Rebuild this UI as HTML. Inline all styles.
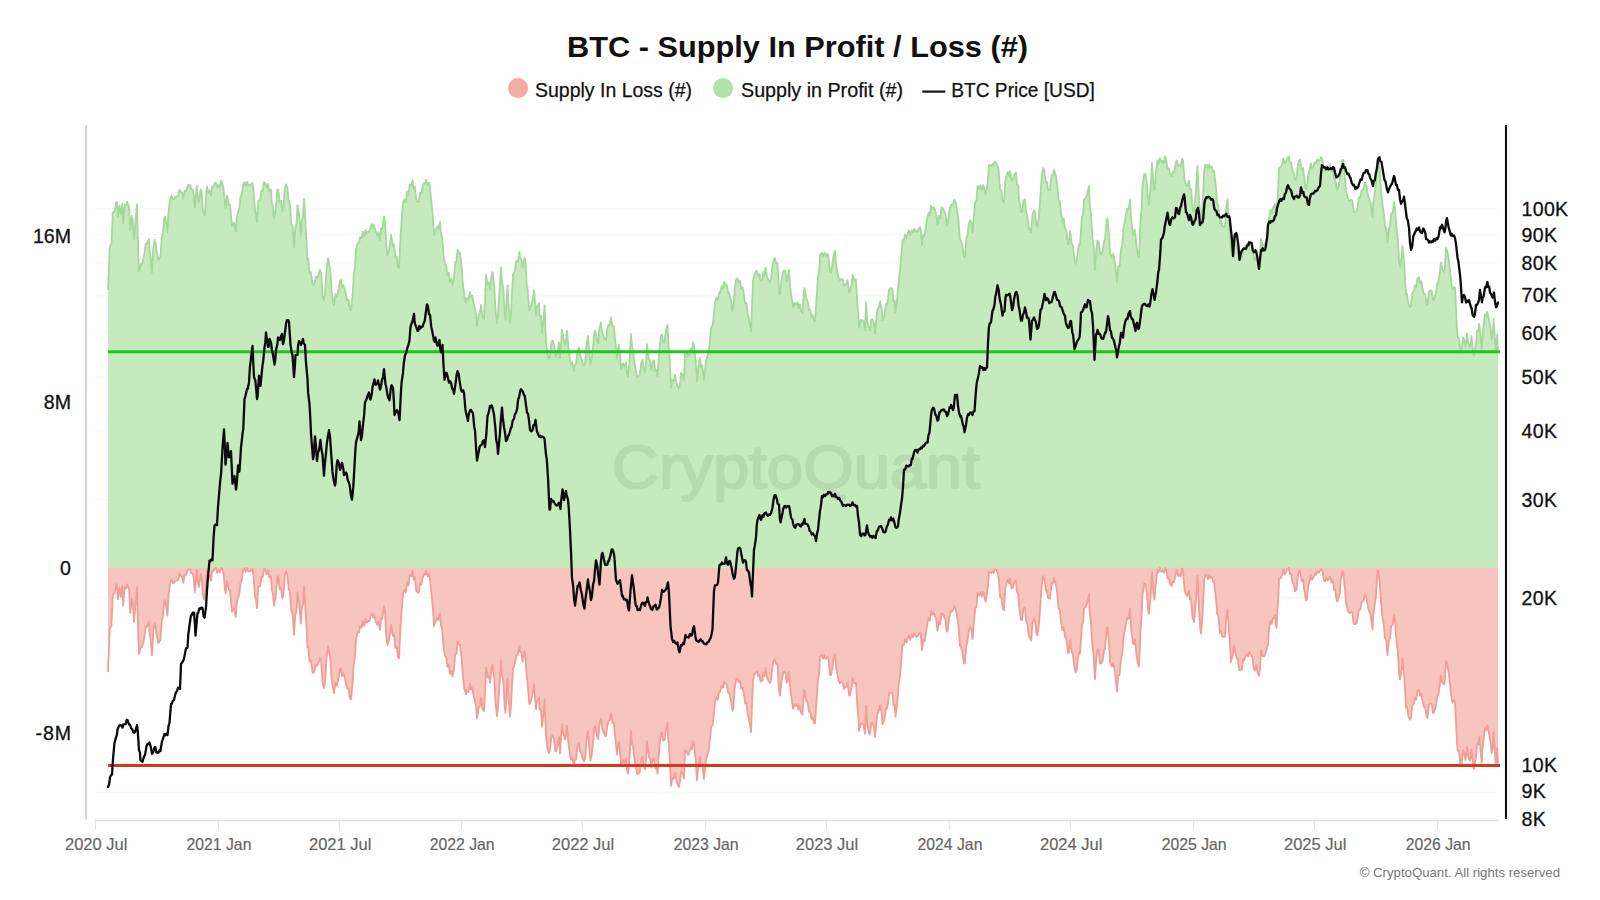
<!DOCTYPE html>
<html lang="en">
<head>
<meta charset="utf-8">
<title>BTC - Supply In Profit / Loss (#)</title>
<style>
html,body{margin:0;padding:0;background:#fff;}
body{width:1600px;height:900px;overflow:hidden;font-family:"Liberation Sans",Arial,Helvetica,sans-serif;}
svg{display:block;}
svg text{font-family:"Liberation Sans",Arial,Helvetica,sans-serif;}
.title{font-size:30.4px;font-weight:700;fill:#111;}
.legend text{font-size:20.2px;fill:#111;stroke:#111;stroke-width:0.25px;}
.yl text,.yr text{font-size:19.6px;fill:#111;stroke:#111;stroke-width:0.3px;}
.yr text{letter-spacing:0.3px;}
.xl text{font-size:15.9px;fill:#666;stroke:#666;stroke-width:0.2px;}
.grid line{stroke:#f5f5f5;stroke-width:1;}
.xt line{stroke:#e2e2e5;stroke-width:1;}
.foot{font-size:13.2px;fill:#777;}
.wm{font-size:61.5px;font-weight:400;fill:#000;stroke:#000;stroke-width:2;stroke-linejoin:round;}
</style>
</head>
<body>
<svg width="1600" height="900" viewBox="0 0 1600 900">
<rect width="1600" height="900" fill="#ffffff"/>
<text class="title" x="797.5" y="56.6" text-anchor="middle" textLength="461" lengthAdjust="spacingAndGlyphs">BTC - Supply In Profit / Loss (#)</text>
<g class="legend">
<circle cx="518.1" cy="88.1" r="10" fill="#f2aca5"/>
<text x="535" y="96.5" textLength="157" lengthAdjust="spacingAndGlyphs">Supply In Loss (#)</text>
<circle cx="723.1" cy="88.1" r="10" fill="#b3e0a6"/>
<text x="741" y="96.5" textLength="162" lengthAdjust="spacingAndGlyphs">Supply in Profit (#)</text>
<line x1="922.3" x2="945.3" y1="91.6" y2="91.6" stroke="#111" stroke-width="2.2"/>
<text x="951.3" y="96.5" textLength="143.5" lengthAdjust="spacingAndGlyphs">BTC Price [USD]</text>
</g>
<g class="grid"><line x1="94" x2="1498" y1="209.0" y2="209.0"/><line x1="94" x2="1498" y1="234.4" y2="234.4"/><line x1="94" x2="1498" y1="262.9" y2="262.9"/><line x1="94" x2="1498" y1="295.9" y2="295.9"/><line x1="94" x2="1498" y1="333.1" y2="333.1"/><line x1="94" x2="1498" y1="377.2" y2="377.2"/><line x1="94" x2="1498" y1="431.1" y2="431.1"/><line x1="94" x2="1498" y1="499.7" y2="499.7"/><line x1="94" x2="1498" y1="597.6" y2="597.6"/><line x1="94" x2="1498" y1="765.0" y2="765.0"/><line x1="94" x2="1498" y1="792.2" y2="792.2"/><line x1="94" x2="1498" y1="818.9" y2="818.9"/></g>
<line x1="86" x2="86" y1="125" y2="819.5" stroke="#d2d2d5" stroke-width="2"/>
<line x1="94.5" x2="1498" y1="820.5" y2="820.5" stroke="#e2e2e5" stroke-width="1.4"/>
<g class="xt"><line x1="95.5" x2="95.5" y1="820" y2="830"/><line x1="218.3" x2="218.3" y1="820" y2="830"/><line x1="339.5" x2="339.5" y1="820" y2="830"/><line x1="461.5" x2="461.5" y1="820" y2="830"/><line x1="582.3" x2="582.3" y1="820" y2="830"/><line x1="705.5" x2="705.5" y1="820" y2="830"/><line x1="826.3" x2="826.3" y1="820" y2="830"/><line x1="949.3" x2="949.3" y1="820" y2="830"/><line x1="1070.5" x2="1070.5" y1="820" y2="830"/><line x1="1193.5" x2="1193.5" y1="820" y2="830"/><line x1="1314.5" x2="1314.5" y1="820" y2="830"/><line x1="1437.5" x2="1437.5" y1="820" y2="830"/></g>
<path d="M108.0,290.0 L109.7,248.3 L110.6,244.6 L111.4,244.2 L112.8,212.8 L114.6,211.3 L116.4,201.9 L117.1,203.7 L117.8,217.2 L119.4,205.6 L120.8,214.6 L122.2,204.0 L123.2,223.2 L124.7,204.7 L126.2,205.7 L127.0,201.8 L129.2,207.6 L130.3,230.4 L132.0,215.9 L132.7,219.2 L134.0,239.2 L135.4,222.7 L137.0,204.3 L138.2,250.3 L138.9,271.3 L141.0,263.9 L141.8,264.3 L143.0,260.6 L144.4,253.7 L145.7,243.9 L146.5,244.2 L148.9,238.9 L149.6,251.1 L150.3,253.2 L152.0,272.3 L153.5,245.5 L154.8,240.1 L155.5,242.8 L157.0,252.9 L158.3,259.7 L160.4,256.5 L161.8,237.1 L162.6,235.1 L164.2,217.9 L165.2,216.4 L166.0,222.0 L167.4,232.0 L168.7,210.0 L170.1,199.5 L171.7,195.8 L173.0,199.3 L174.3,198.8 L175.0,196.7 L176.9,196.6 L178.2,195.5 L179.5,189.7 L180.5,191.4 L182.1,192.4 L183.3,198.7 L184.7,190.8 L186.1,190.7 L187.3,186.9 L188.6,184.8 L190.3,185.3 L191.2,188.7 L193.0,190.1 L193.8,195.0 L194.9,207.7 L196.8,185.9 L197.7,196.2 L198.9,202.5 L200.7,189.4 L201.6,191.2 L202.8,210.1 L204.2,215.2 L204.9,214.0 L206.9,186.4 L208.1,192.7 L209.4,190.3 L211.0,195.8 L212.0,187.4 L213.9,185.3 L214.6,183.1 L215.9,182.6 L217.2,187.7 L218.0,185.2 L219.8,187.2 L221.1,180.5 L222.0,183.1 L223.6,188.7 L225.0,204.6 L225.7,208.1 L227.0,195.7 L228.9,204.6 L229.9,204.6 L232.0,226.3 L232.8,223.2 L234.0,222.9 L235.8,231.5 L236.7,217.4 L237.5,214.2 L239.3,208.1 L240.3,198.0 L241.9,193.6 L243.0,185.0 L244.5,182.1 L245.8,186.2 L247.1,181.6 L248.4,185.6 L249.7,185.4 L251.4,183.7 L252.3,182.8 L253.5,189.7 L254.9,209.2 L256.2,215.6 L257.0,221.9 L258.3,200.8 L260.1,200.0 L261.4,190.6 L262.7,191.1 L264.0,182.2 L265.0,182.7 L266.6,187.7 L267.9,184.0 L269.2,191.0 L271.0,189.6 L271.8,202.8 L273.1,208.2 L274.0,218.9 L275.7,209.9 L277.5,189.8 L278.3,189.4 L279.6,202.2 L280.9,200.6 L282.5,211.6 L283.5,207.1 L284.8,188.9 L286.0,184.3 L287.4,188.2 L288.7,201.9 L290.0,204.5 L291.3,224.0 L292.6,226.5 L294.0,247.7 L295.2,228.9 L296.5,223.2 L297.5,205.1 L299.1,215.7 L301.0,236.2 L301.7,221.9 L303.0,216.5 L304.0,198.7 L305.6,223.8 L307.5,259.7 L308.2,258.8 L309.5,273.6 L310.8,272.2 L312.5,284.5 L313.4,285.2 L314.7,282.6 L316.0,276.6 L317.3,277.7 L318.6,274.8 L320.0,269.7 L321.2,273.2 L322.5,295.2 L324.0,300.0 L325.1,293.6 L326.4,271.0 L328.0,258.3 L329.0,262.5 L330.3,270.0 L331.6,291.5 L332.9,299.2 L334.0,304.7 L335.5,294.0 L336.8,297.2 L338.1,292.0 L340.0,280.6 L340.8,279.4 L342.1,287.6 L343.4,285.1 L345.0,290.1 L346.0,295.3 L347.3,300.0 L348.6,300.0 L349.9,309.3 L351.0,310.5 L352.5,295.7 L353.8,275.0 L355.1,266.4 L356.0,250.2 L357.7,243.1 L359.0,243.4 L360.0,237.2 L361.6,238.3 L362.9,231.8 L364.2,236.6 L365.5,230.2 L366.8,233.3 L368.1,231.7 L369.4,231.8 L370.7,226.5 L372.0,223.9 L373.3,228.2 L374.0,224.9 L375.9,232.2 L377.2,235.4 L378.5,232.3 L380.0,240.1 L381.1,228.2 L382.4,229.1 L384.0,216.4 L385.0,222.1 L386.3,245.8 L387.5,255.2 L388.9,250.5 L390.2,241.8 L391.0,235.0 L392.8,245.8 L394.1,244.3 L395.4,257.9 L396.7,256.4 L398.0,266.7 L399.0,268.0 L400.6,235.5 L402.5,209.1 L403.2,202.1 L404.5,199.3 L405.8,202.1 L407.1,191.4 L408.4,195.1 L409.7,184.6 L411.0,185.7 L412.5,180.2 L413.6,189.0 L414.9,186.8 L416.2,199.9 L417.5,201.9 L418.8,202.0 L420.1,192.6 L421.4,193.6 L422.7,186.6 L424.0,183.2 L425.3,183.8 L426.0,179.8 L427.9,185.4 L429.2,182.7 L430.0,188.1 L431.8,205.5 L433.1,220.3 L434.0,235.1 L435.7,230.0 L437.0,226.6 L438.3,228.8 L440.0,221.9 L440.9,233.9 L442.2,237.8 L443.5,255.1 L445.0,264.2 L446.1,265.3 L447.4,275.3 L448.7,272.7 L450.0,282.1 L451.3,278.8 L452.5,284.7 L453.9,278.0 L455.2,262.2 L456.5,262.0 L457.5,249.7 L459.1,252.4 L460.0,252.9 L461.7,267.1 L462.5,280.0 L464.3,296.2 L466.0,302.2 L466.9,298.1 L468.2,299.8 L470.0,291.9 L470.8,297.1 L472.1,295.6 L474.0,305.1 L474.7,307.5 L476.0,313.5 L477.0,326.2 L478.6,315.0 L479.9,313.3 L481.0,304.8 L482.5,316.2 L484.0,318.5 L485.1,300.0 L486.0,275.0 L487.7,284.2 L489.0,282.7 L490.0,290.0 L491.6,275.3 L492.5,271.8 L494.2,285.2 L495.5,309.7 L497.0,323.5 L498.1,312.8 L499.4,293.4 L501.0,267.3 L502.0,282.3 L503.3,287.4 L504.6,312.3 L505.5,319.6 L507.5,285.3 L508.5,303.9 L510.0,323.2 L511.1,310.1 L513.0,274.6 L513.7,274.1 L515.0,269.6 L516.3,261.0 L517.6,261.8 L519.5,252.0 L520.2,258.2 L521.5,259.0 L522.5,267.7 L524.5,257.6 L525.4,260.9 L526.7,283.9 L527.5,287.7 L529.3,310.1 L530.0,309.2 L531.9,303.1 L533.2,296.3 L534.0,290.1 L536.0,315.2 L537.1,306.5 L539.0,303.1 L539.7,315.3 L541.0,316.0 L542.0,332.5 L543.6,318.5 L544.5,305.4 L546.0,341.8 L547.5,354.4 L549.0,358.7 L550.1,354.9 L551.4,342.6 L552.5,340.4 L554.0,344.1 L555.3,356.6 L556.0,356.8 L557.9,349.9 L559.0,342.3 L560.0,358.6 L562.0,329.7 L563.1,337.4 L565.0,344.4 L565.7,343.0 L567.0,330.7 L568.3,346.8 L570.0,359.2 L570.9,364.5 L572.2,362.6 L574.0,371.2 L574.8,364.9 L576.1,364.2 L577.4,350.2 L579.0,347.4 L580.0,355.6 L581.3,357.7 L582.6,363.5 L584.0,365.7 L585.2,363.2 L586.5,343.7 L588.0,335.8 L589.1,351.3 L590.5,364.6 L591.7,359.2 L593.0,347.7 L594.3,331.7 L595.0,330.5 L597.5,342.0 L598.2,343.2 L599.5,327.6 L601.0,322.4 L602.1,331.9 L603.4,335.8 L605.0,339.7 L606.0,340.2 L607.3,329.6 L608.6,324.7 L609.9,323.9 L611.0,317.3 L612.5,326.5 L613.8,326.0 L614.5,333.7 L617.0,358.0 L617.7,349.0 L619.0,345.3 L620.3,358.2 L621.0,369.1 L622.9,363.2 L624.2,366.6 L626.0,362.4 L626.8,371.5 L628.0,376.9 L629.4,362.8 L631.0,334.0 L632.0,346.7 L633.3,351.3 L634.0,359.9 L635.9,370.3 L637.2,377.5 L638.0,376.9 L639.8,375.0 L641.1,363.5 L642.5,359.8 L643.7,369.3 L645.0,372.2 L646.3,359.1 L647.0,343.9 L648.9,358.9 L650.2,361.8 L651.0,370.1 L652.8,361.9 L654.0,360.2 L655.4,371.0 L656.7,369.7 L657.5,376.1 L659.3,350.8 L661.0,335.0 L661.9,334.6 L663.2,342.8 L664.5,342.1 L665.8,331.8 L667.5,325.0 L668.4,343.8 L669.5,355.1 L671.0,387.9 L672.3,379.8 L673.6,381.1 L675.0,374.8 L676.2,381.9 L677.5,385.9 L679.0,388.7 L680.1,382.9 L681.0,372.8 L682.7,375.0 L684.0,380.3 L685.0,352.1 L686.6,352.2 L687.9,356.5 L689.0,354.8 L690.5,348.6 L691.8,350.8 L693.1,342.2 L694.0,345.0 L695.7,361.1 L697.0,381.3 L698.3,367.6 L700.0,358.0 L700.9,367.7 L702.2,365.3 L704.0,380.2 L704.8,371.3 L706.1,360.5 L707.5,355.6 L708.7,351.8 L710.0,339.6 L711.3,326.7 L712.6,326.2 L713.9,314.7 L715.0,302.0 L716.5,297.8 L717.8,300.5 L719.1,292.8 L720.0,292.6 L721.7,286.2 L723.0,288.1 L724.3,282.0 L725.0,283.0 L726.9,285.5 L728.2,293.0 L729.0,292.5 L730.8,299.5 L732.5,311.2 L733.4,307.6 L734.7,288.7 L736.0,280.2 L737.3,278.3 L738.6,282.3 L740.0,280.7 L741.2,288.7 L742.5,287.1 L744.0,294.6 L745.1,303.2 L746.4,302.8 L747.5,312.9 L749.0,319.6 L750.3,326.4 L751.0,331.8 L753.0,280.4 L754.2,274.6 L756.0,271.5 L756.8,270.8 L758.1,276.0 L759.4,274.3 L760.7,281.0 L762.5,279.7 L763.3,271.9 L764.6,275.6 L765.5,267.5 L767.2,277.4 L768.5,280.1 L770.0,282.3 L771.1,278.7 L772.4,265.7 L774.0,259.6 L775.0,258.3 L776.3,263.2 L777.5,263.0 L778.9,287.8 L780.0,294.6 L781.5,280.5 L782.8,273.3 L784.0,270.2 L785.4,271.2 L786.7,281.6 L787.5,280.2 L789.0,270.0 L790.6,290.0 L792.5,304.0 L793.2,307.2 L794.5,302.6 L795.8,304.5 L797.5,302.4 L798.4,308.1 L799.7,304.1 L801.0,310.9 L802.5,312.7 L803.7,293.8 L804.5,288.1 L806.3,298.8 L807.6,300.9 L809.0,309.7 L810.2,310.0 L811.5,317.1 L812.8,315.1 L814.1,321.7 L815.0,321.2 L816.7,296.1 L818.0,276.8 L819.3,270.7 L820.0,254.8 L821.9,252.6 L823.2,256.2 L824.5,252.6 L825.8,256.6 L827.5,253.7 L828.4,256.0 L830.0,272.5 L831.0,272.5 L832.3,266.2 L833.6,255.1 L835.0,250.8 L836.2,266.1 L837.5,272.2 L838.8,278.5 L840.0,280.3 L841.4,278.7 L842.7,279.7 L844.0,286.1 L845.0,284.7 L846.6,283.4 L847.5,280.0 L849.2,292.5 L850.0,291.7 L851.8,283.3 L852.5,274.9 L854.4,280.0 L856.0,279.6 L857.0,298.6 L858.3,313.4 L859.0,327.6 L860.9,319.9 L862.5,320.3 L863.5,321.2 L865.0,330.4 L866.0,302.1 L867.4,321.7 L869.0,329.2 L870.0,330.8 L871.3,319.4 L872.5,319.2 L873.9,323.0 L875.0,333.4 L876.5,317.4 L877.5,309.4 L879.1,306.3 L880.0,301.5 L881.7,308.9 L882.5,320.1 L884.3,315.5 L886.0,303.8 L886.9,304.5 L888.2,298.4 L889.0,289.7 L890.8,288.1 L892.5,288.9 L893.4,301.4 L894.7,300.4 L895.5,312.4 L897.3,297.6 L899.0,277.6 L899.9,272.4 L901.2,257.8 L902.5,239.6 L903.8,240.3 L905.1,234.6 L906.4,237.9 L907.5,234.2 L909.0,230.6 L910.3,235.0 L911.6,230.3 L912.9,232.4 L914.2,229.0 L915.0,229.8 L916.8,232.1 L918.1,230.5 L920.0,227.3 L920.7,228.9 L922.0,245.3 L923.3,234.8 L924.6,236.1 L926.0,227.2 L927.2,218.8 L928.5,212.7 L929.8,215.4 L931.0,205.8 L932.4,209.4 L933.7,207.4 L935.0,210.2 L936.3,214.8 L937.5,225.2 L938.9,216.1 L940.2,218.5 L941.5,207.4 L942.5,207.9 L944.1,210.6 L945.4,213.6 L946.7,225.8 L947.5,225.0 L949.3,210.9 L951.0,204.9 L951.9,205.5 L953.2,203.8 L954.5,199.7 L955.8,203.2 L957.5,212.6 L958.4,219.1 L960.0,240.0 L961.0,240.4 L962.3,245.3 L964.0,257.1 L964.9,256.8 L966.2,239.8 L967.5,234.6 L968.8,224.6 L970.0,220.2 L971.4,222.5 L972.5,232.6 L974.0,214.2 L975.3,201.5 L976.6,200.1 L977.5,185.8 L979.2,188.8 L980.5,185.2 L981.8,189.7 L983.1,185.0 L984.0,188.1 L985.5,194.5 L987.0,187.3 L988.3,175.3 L989.0,164.7 L990.9,166.0 L992.5,163.8 L993.5,166.0 L994.8,161.7 L996.1,162.5 L997.5,165.3 L998.7,170.2 L1000.0,189.6 L1001.3,190.4 L1002.6,201.0 L1004.0,202.8 L1005.2,182.0 L1006.0,177.7 L1007.8,172.1 L1009.1,175.9 L1010.0,170.8 L1011.7,180.9 L1012.5,180.2 L1014.3,174.7 L1016.0,172.8 L1016.9,184.1 L1018.2,185.5 L1019.0,198.2 L1021.0,212.0 L1022.1,211.8 L1023.4,200.6 L1025.0,199.3 L1026.0,211.7 L1027.5,216.9 L1028.6,226.6 L1030.5,231.7 L1031.2,232.4 L1032.5,214.6 L1034.0,210.3 L1035.1,213.3 L1036.4,224.9 L1037.5,227.0 L1039.0,216.0 L1040.0,201.8 L1041.6,178.2 L1043.0,167.9 L1044.2,170.2 L1046.0,182.6 L1046.8,181.9 L1048.1,189.8 L1050.0,190.2 L1050.7,181.8 L1052.0,174.9 L1053.3,174.5 L1054.0,169.8 L1055.9,176.4 L1057.5,187.1 L1058.5,199.8 L1059.8,201.2 L1061.0,213.0 L1062.4,222.0 L1063.7,218.8 L1065.0,228.0 L1066.3,230.2 L1068.0,244.4 L1068.9,243.6 L1070.0,230.8 L1071.5,242.9 L1072.8,245.4 L1074.0,255.3 L1075.5,263.8 L1076.7,262.1 L1078.0,249.1 L1079.3,243.7 L1080.0,244.8 L1081.9,217.4 L1083.2,213.1 L1084.0,199.7 L1085.8,198.0 L1087.1,194.3 L1089.0,185.8 L1089.7,203.0 L1091.0,214.6 L1092.3,235.6 L1093.6,245.8 L1095.0,270.2 L1096.2,251.0 L1097.5,240.4 L1098.8,242.6 L1100.1,254.6 L1101.0,254.6 L1102.7,251.3 L1104.0,241.3 L1105.0,240.3 L1106.6,219.6 L1107.5,218.5 L1109.2,236.6 L1110.0,252.9 L1111.8,257.5 L1113.1,254.0 L1114.0,257.5 L1115.7,268.7 L1117.0,282.7 L1118.3,266.2 L1119.6,266.1 L1121.0,249.6 L1122.2,245.4 L1123.5,228.1 L1125.0,220.5 L1126.1,213.6 L1127.4,208.6 L1128.7,209.5 L1130.0,199.7 L1131.3,221.3 L1133.0,234.2 L1133.9,235.2 L1135.0,229.9 L1136.5,246.1 L1137.8,253.7 L1139.0,257.5 L1140.4,223.1 L1141.7,205.4 L1142.5,185.1 L1144.3,174.0 L1145.5,174.4 L1146.9,183.8 L1148.2,201.4 L1149.0,204.5 L1150.8,184.5 L1152.0,163.0 L1153.4,184.4 L1154.5,189.9 L1156.0,171.3 L1157.5,160.4 L1158.6,162.7 L1159.9,157.9 L1161.2,161.9 L1162.5,160.8 L1163.8,163.2 L1165.1,156.5 L1166.0,159.3 L1167.7,169.0 L1169.0,168.5 L1170.0,174.2 L1171.6,176.1 L1172.9,171.7 L1174.0,172.7 L1176.0,162.4 L1176.8,160.3 L1178.1,166.2 L1180.0,164.8 L1180.7,166.8 L1182.0,158.6 L1183.0,160.6 L1184.6,180.1 L1186.0,184.5 L1187.2,185.9 L1189.0,180.8 L1189.8,189.4 L1191.1,189.2 L1192.4,207.1 L1194.0,212.0 L1195.0,202.4 L1196.3,185.0 L1197.5,165.9 L1198.9,196.5 L1200.2,218.2 L1201.0,223.6 L1202.8,201.0 L1204.1,172.0 L1205.0,165.4 L1206.7,164.6 L1208.0,169.1 L1209.3,164.6 L1210.0,167.7 L1211.9,166.7 L1213.2,171.9 L1214.0,170.9 L1216.0,187.8 L1217.1,203.4 L1218.4,205.4 L1220.0,222.8 L1221.0,221.1 L1222.3,226.4 L1223.6,226.5 L1225.0,226.4 L1226.2,207.7 L1227.5,199.3 L1228.8,219.7 L1229.5,226.7 L1231.0,251.4 L1232.7,244.6 L1234.0,234.8 L1235.3,242.6 L1237.0,248.3 L1237.9,248.7 L1239.2,259.4 L1240.0,259.6 L1241.8,258.7 L1243.1,248.3 L1244.0,250.1 L1245.7,245.4 L1247.0,243.5 L1248.3,245.9 L1249.0,241.3 L1251.5,245.1 L1252.2,245.9 L1254.0,258.3 L1254.8,260.0 L1256.5,253.8 L1257.4,261.1 L1259.0,264.7 L1260.0,258.1 L1261.0,239.0 L1262.6,245.1 L1264.0,245.7 L1265.2,243.7 L1267.0,236.3 L1267.9,235.2 L1269.0,217.7 L1270.5,210.2 L1271.8,212.9 L1272.5,208.6 L1275.0,203.9 L1275.7,213.0 L1276.5,216.8 L1278.3,186.0 L1279.0,167.8 L1280.9,166.8 L1282.5,162.9 L1283.5,158.4 L1284.8,163.3 L1286.1,161.0 L1287.5,157.8 L1288.7,156.5 L1290.0,163.0 L1291.0,162.3 L1292.6,171.4 L1293.9,173.1 L1295.0,180.2 L1296.5,178.2 L1297.8,165.5 L1299.1,160.5 L1300.0,159.4 L1301.7,169.9 L1303.0,168.1 L1304.0,177.1 L1306.0,189.3 L1306.9,187.8 L1308.2,175.0 L1310.0,168.1 L1310.8,163.5 L1312.1,168.5 L1313.4,165.9 L1315.0,162.4 L1316.0,163.4 L1317.3,159.5 L1318.6,161.3 L1319.9,159.6 L1321.0,157.3 L1322.5,159.4 L1323.8,168.2 L1325.0,169.9 L1326.4,165.9 L1327.7,168.9 L1329.0,167.4 L1330.0,164.8 L1331.6,170.8 L1332.9,169.0 L1334.2,178.3 L1335.0,177.5 L1336.8,189.4 L1337.5,189.6 L1340.0,180.5 L1340.7,168.4 L1342.5,159.7 L1343.3,160.6 L1345.0,177.5 L1345.9,190.2 L1347.5,197.0 L1348.5,200.5 L1349.8,201.3 L1351.0,199.8 L1352.4,200.8 L1353.7,212.2 L1355.0,212.3 L1356.3,211.5 L1357.6,207.0 L1359.0,197.3 L1360.2,197.6 L1361.5,190.8 L1362.5,190.1 L1364.1,187.0 L1365.0,182.3 L1366.7,186.9 L1368.0,195.8 L1369.0,198.0 L1370.6,202.8 L1372.5,217.4 L1373.2,204.5 L1375.0,190.3 L1375.8,186.1 L1377.1,164.3 L1378.0,157.7 L1379.7,169.2 L1381.0,189.5 L1382.3,203.6 L1384.0,214.0 L1384.9,225.9 L1386.2,227.7 L1387.5,242.8 L1388.8,228.8 L1390.1,225.9 L1391.0,214.3 L1392.7,212.4 L1394.0,202.1 L1395.3,210.6 L1396.0,223.8 L1397.9,239.4 L1399.2,262.3 L1400.0,266.8 L1401.8,256.1 L1402.5,246.1 L1404.4,266.0 L1406.0,295.1 L1407.0,294.2 L1408.3,303.7 L1410.0,307.2 L1410.9,306.2 L1412.2,293.4 L1414.0,290.5 L1414.8,285.6 L1416.1,286.9 L1417.4,278.5 L1419.0,277.3 L1420.0,283.1 L1421.3,281.3 L1422.5,287.7 L1423.9,294.3 L1425.2,294.2 L1426.5,303.7 L1427.5,305.1 L1429.1,291.4 L1430.0,290.3 L1431.7,291.0 L1433.0,300.2 L1434.0,299.6 L1435.6,294.6 L1437.5,282.5 L1438.2,282.5 L1439.5,274.3 L1441.0,262.4 L1442.1,269.0 L1444.0,271.9 L1444.7,269.7 L1446.0,247.7 L1447.3,251.3 L1448.6,258.8 L1450.0,270.4 L1451.2,282.7 L1452.5,289.6 L1453.8,286.9 L1455.0,288.2 L1457.0,330.1 L1457.7,337.3 L1459.0,338.2 L1460.3,350.5 L1461.3,352.5 L1463.0,337.3 L1464.2,340.0 L1465.5,346.9 L1467.0,333.9 L1468.1,342.8 L1469.7,347.1 L1470.7,344.6 L1471.5,336.0 L1473.3,354.2 L1474.0,355.6 L1476.0,344.4 L1477.2,330.7 L1478.5,331.0 L1479.2,323.6 L1481.7,348.9 L1482.4,337.8 L1484.0,321.8 L1485.0,314.6 L1486.3,316.6 L1487.2,311.9 L1488.9,318.6 L1490.8,330.0 L1491.6,339.5 L1492.8,333.8 L1493.6,318.7 L1495.7,351.0 L1497.2,334.3 L1498.0,352.2 L1498.0,568.0 L108.0,568.0 Z" fill="#c6e9be"/>
<path d="M108.0,671.9 L109.7,630.3 L110.6,626.6 L111.4,626.3 L112.8,594.9 L114.6,593.4 L116.4,584.1 L117.1,585.9 L117.8,599.4 L119.4,587.9 L120.8,596.9 L122.2,586.3 L123.2,605.5 L124.7,587.2 L126.2,588.2 L127.0,584.3 L129.2,590.1 L130.3,612.9 L132.0,598.5 L132.7,601.8 L134.0,621.9 L135.4,605.4 L137.0,587.1 L138.2,633.1 L138.9,654.1 L141.0,646.8 L141.8,647.2 L143.0,643.5 L144.4,636.6 L145.7,626.9 L146.5,627.2 L148.9,622.0 L149.6,634.2 L150.3,636.4 L152.0,655.4 L153.5,628.7 L154.8,623.4 L155.5,626.1 L157.0,636.3 L158.3,643.1 L160.4,639.9 L161.8,620.5 L162.6,618.6 L164.2,601.4 L165.2,599.9 L166.0,605.6 L167.4,615.6 L168.7,593.7 L170.1,583.2 L171.7,579.5 L173.0,583.1 L174.3,582.7 L175.0,580.6 L176.9,580.5 L178.2,579.5 L179.5,573.7 L180.5,575.4 L182.1,576.4 L183.3,582.8 L184.7,575.0 L186.1,574.8 L187.3,571.0 L188.6,569.1 L190.3,569.6 L191.2,573.0 L193.0,574.4 L193.8,579.4 L194.9,592.2 L196.8,570.3 L197.7,580.7 L198.9,587.0 L200.7,574.0 L201.6,575.8 L202.8,594.7 L204.2,599.8 L204.9,598.7 L206.9,571.1 L208.1,577.5 L209.4,575.1 L211.0,580.7 L212.0,572.3 L213.9,570.2 L214.6,568.1 L215.9,568.0 L217.2,572.8 L218.0,570.3 L219.8,572.3 L221.1,568.0 L222.0,568.3 L223.6,573.9 L225.0,589.9 L225.7,593.3 L227.0,581.0 L228.9,589.9 L229.9,590.0 L232.0,611.8 L232.8,608.7 L234.0,608.4 L235.8,617.0 L236.7,603.0 L237.5,599.8 L239.3,593.8 L240.3,583.7 L241.9,579.4 L243.0,570.8 L244.5,568.0 L245.8,572.0 L247.1,568.0 L248.4,571.5 L249.7,571.4 L251.4,569.8 L252.3,568.8 L253.5,575.8 L254.9,595.4 L256.2,601.8 L257.0,608.1 L258.3,587.0 L260.1,586.2 L261.4,576.9 L262.7,577.4 L264.0,568.6 L265.0,569.1 L266.6,574.2 L267.9,570.5 L269.2,577.5 L271.0,576.2 L271.8,589.4 L273.1,594.8 L274.0,605.6 L275.7,596.7 L277.5,576.6 L278.3,576.2 L279.6,589.0 L280.9,587.5 L282.5,598.6 L283.5,594.0 L284.8,575.9 L286.0,571.3 L287.4,575.3 L288.7,589.0 L290.0,591.6 L291.3,611.1 L292.6,613.7 L294.0,634.9 L295.2,616.2 L296.5,610.5 L297.5,592.4 L299.1,603.1 L301.0,623.6 L301.7,609.3 L303.0,603.9 L304.0,586.2 L305.6,611.4 L307.5,647.3 L308.2,646.4 L309.5,661.3 L310.8,659.9 L312.5,672.3 L313.4,673.0 L314.7,670.4 L316.0,664.4 L317.3,665.6 L318.6,662.7 L320.0,657.7 L321.2,661.2 L322.5,683.2 L324.0,688.1 L325.1,681.8 L326.4,659.2 L328.0,646.5 L329.0,650.7 L330.3,658.3 L331.6,679.8 L332.9,687.5 L334.0,693.1 L335.5,682.5 L336.8,685.7 L338.1,680.5 L340.0,669.2 L340.8,668.0 L342.1,676.2 L343.4,673.7 L345.0,678.8 L346.0,684.0 L347.3,688.7 L348.6,688.8 L349.9,698.2 L351.0,699.4 L352.5,684.6 L353.8,663.9 L355.1,655.3 L356.0,639.2 L357.7,632.1 L359.0,632.5 L360.0,626.3 L361.6,627.5 L362.9,621.0 L364.2,625.9 L365.5,619.5 L366.8,622.6 L368.1,621.0 L369.4,621.2 L370.7,615.9 L372.0,613.4 L373.3,617.7 L374.0,614.5 L375.9,621.8 L377.2,625.0 L378.5,621.9 L380.0,629.8 L381.1,618.0 L382.4,618.8 L384.0,606.2 L385.0,611.9 L386.3,635.7 L387.5,645.1 L388.9,640.5 L390.2,631.7 L391.0,625.0 L392.8,635.8 L394.1,634.4 L395.4,648.0 L396.7,646.6 L398.0,656.9 L399.0,658.2 L400.6,625.7 L402.5,599.5 L403.2,592.5 L404.5,589.7 L405.8,592.6 L407.1,581.8 L408.4,585.6 L409.7,575.1 L411.0,576.3 L412.5,570.9 L413.6,579.6 L414.9,577.5 L416.2,590.7 L417.5,592.6 L418.8,592.8 L420.1,583.4 L421.4,584.4 L422.7,577.5 L424.0,574.1 L425.3,574.8 L426.0,570.7 L427.9,576.5 L429.2,573.8 L430.0,579.2 L431.8,596.7 L433.1,611.5 L434.0,626.3 L435.7,621.3 L437.0,617.9 L438.3,620.1 L440.0,613.3 L440.9,625.3 L442.2,629.3 L443.5,646.6 L445.0,655.8 L446.1,656.8 L447.4,666.9 L448.7,664.3 L450.0,673.8 L451.3,670.5 L452.5,676.4 L453.9,669.8 L455.2,654.0 L456.5,653.9 L457.5,641.6 L459.1,644.4 L460.0,644.8 L461.7,659.1 L462.5,672.0 L464.3,688.3 L466.0,694.3 L466.9,690.3 L468.2,692.0 L470.0,684.2 L470.8,689.4 L472.1,687.9 L474.0,697.4 L474.7,699.9 L476.0,705.9 L477.0,718.7 L478.6,707.5 L479.9,705.9 L481.0,697.3 L482.5,708.8 L484.0,711.1 L485.1,692.7 L486.0,667.7 L487.7,677.0 L489.0,675.5 L490.0,682.8 L491.6,668.1 L492.5,664.7 L494.2,678.1 L495.5,702.7 L497.0,716.5 L498.1,705.9 L499.4,686.5 L501.0,660.5 L502.0,675.5 L503.3,680.6 L504.6,705.6 L505.5,712.9 L507.5,678.6 L508.5,697.3 L510.0,716.6 L511.1,703.5 L513.0,668.0 L513.7,667.6 L515.0,663.1 L516.3,654.6 L517.6,655.4 L519.5,645.7 L520.2,651.9 L521.5,652.7 L522.5,661.5 L524.5,651.4 L525.4,654.7 L526.7,677.7 L527.5,681.6 L529.3,704.0 L530.0,703.2 L531.9,697.2 L533.2,690.4 L534.0,684.2 L536.0,709.4 L537.1,700.6 L539.0,697.3 L539.7,709.5 L541.0,710.3 L542.0,726.8 L543.6,712.8 L544.5,699.8 L546.0,736.3 L547.5,748.9 L549.0,753.2 L550.1,749.5 L551.4,737.1 L552.5,735.0 L554.0,738.8 L555.3,751.3 L556.0,751.5 L557.9,744.6 L559.0,737.1 L560.0,753.5 L562.0,724.6 L563.1,732.3 L565.0,739.3 L565.7,738.0 L567.0,725.7 L568.3,741.9 L570.0,754.4 L570.9,759.6 L572.2,757.8 L574.0,766.4 L574.8,760.2 L576.1,759.5 L577.4,745.6 L579.0,742.8 L580.0,751.0 L581.3,753.2 L582.6,759.0 L584.0,761.2 L585.2,758.7 L586.5,739.3 L588.0,731.5 L589.1,747.0 L590.5,760.3 L591.7,754.9 L593.0,743.5 L594.3,727.5 L595.0,726.3 L597.5,737.8 L598.2,739.2 L599.5,723.6 L601.0,718.3 L602.1,727.9 L603.4,731.9 L605.0,735.8 L606.0,736.3 L607.3,725.8 L608.6,720.9 L609.9,720.2 L611.0,713.5 L612.5,722.8 L613.8,722.3 L614.5,730.1 L617.0,754.5 L617.7,745.5 L619.0,741.8 L620.3,754.8 L621.0,765.7 L622.9,759.8 L624.2,763.2 L626.0,759.1 L626.8,768.2 L628.0,773.7 L629.4,759.6 L631.0,730.9 L632.0,743.6 L633.3,748.3 L634.0,756.8 L635.9,767.2 L637.2,774.5 L638.0,773.9 L639.8,772.1 L641.1,760.7 L642.5,757.0 L643.7,766.5 L645.0,769.4 L646.3,756.4 L647.0,741.2 L648.9,756.3 L650.2,759.2 L651.0,767.5 L652.8,759.3 L654.0,757.7 L655.4,768.5 L656.7,767.3 L657.5,773.7 L659.3,748.4 L661.0,732.7 L661.9,732.3 L663.2,740.6 L664.5,739.9 L665.8,729.7 L667.5,722.9 L668.4,741.7 L669.5,753.0 L671.0,785.9 L672.3,777.8 L673.6,779.1 L675.0,772.9 L676.2,780.0 L677.5,784.1 L679.0,786.9 L680.1,781.1 L681.0,771.1 L682.7,773.3 L684.0,778.6 L685.0,750.5 L686.6,750.7 L687.9,755.0 L689.0,753.3 L690.5,747.1 L691.8,749.4 L693.1,740.9 L694.0,743.7 L695.7,759.8 L697.0,780.1 L698.3,766.3 L700.0,756.9 L700.9,766.6 L702.2,764.2 L704.0,779.1 L704.8,770.3 L706.1,759.5 L707.5,754.6 L708.7,750.9 L710.0,738.7 L711.3,725.8 L712.6,725.4 L713.9,713.9 L715.0,701.3 L716.5,697.1 L717.8,699.8 L719.1,692.2 L720.0,692.0 L721.7,685.7 L723.0,687.6 L724.3,681.5 L725.0,682.5 L726.9,685.1 L728.2,692.6 L729.0,692.1 L730.8,699.2 L732.5,710.9 L733.4,707.4 L734.7,688.5 L736.0,680.0 L737.3,678.2 L738.6,682.2 L740.0,680.7 L741.2,688.7 L742.5,687.1 L744.0,694.7 L745.1,703.3 L746.4,703.0 L747.5,713.1 L749.0,719.8 L750.3,726.7 L751.0,732.1 L753.0,680.7 L754.2,675.0 L756.0,671.9 L756.8,671.3 L758.1,676.5 L759.4,674.8 L760.7,681.5 L762.5,680.3 L763.3,672.5 L764.6,676.3 L765.5,668.2 L767.2,678.2 L768.5,680.9 L770.0,683.1 L771.1,679.5 L772.4,666.6 L774.0,660.5 L775.0,659.3 L776.3,664.2 L777.5,664.0 L778.9,688.9 L780.0,695.7 L781.5,681.6 L782.8,674.5 L784.0,671.4 L785.4,672.5 L786.7,682.9 L787.5,681.5 L789.0,671.4 L790.6,691.4 L792.5,705.4 L793.2,708.7 L794.5,704.1 L795.8,706.0 L797.5,704.0 L798.4,709.7 L799.7,705.8 L801.0,712.6 L802.5,714.4 L803.7,695.6 L804.5,689.9 L806.3,700.6 L807.6,702.8 L809.0,711.6 L810.2,712.0 L811.5,719.1 L812.8,717.2 L814.1,723.7 L815.0,723.3 L816.7,698.3 L818.0,679.0 L819.3,672.9 L820.0,657.1 L821.9,654.8 L823.2,658.6 L824.5,654.9 L825.8,659.0 L827.5,656.2 L828.4,658.5 L830.0,675.0 L831.0,675.0 L832.3,668.8 L833.6,657.7 L835.0,653.5 L836.2,668.8 L837.5,674.9 L838.8,681.3 L840.0,683.2 L841.4,681.6 L842.7,682.6 L844.0,689.0 L845.0,687.7 L846.6,686.4 L847.5,683.0 L849.2,695.6 L850.0,694.8 L851.8,686.4 L852.5,678.0 L854.4,683.3 L856.0,682.8 L857.0,701.9 L858.3,716.7 L859.0,730.9 L860.9,723.3 L862.5,723.7 L863.5,724.7 L865.0,733.9 L866.0,705.6 L867.4,725.3 L869.0,732.8 L870.0,734.5 L871.3,723.1 L872.5,723.0 L873.9,726.8 L875.0,737.2 L876.5,721.3 L877.5,713.3 L879.1,710.2 L880.0,705.4 L881.7,712.9 L882.5,724.2 L884.3,719.6 L886.0,707.9 L886.9,708.7 L888.2,702.6 L889.0,693.9 L890.8,692.3 L892.5,693.2 L893.4,705.7 L894.7,704.7 L895.5,716.8 L897.3,702.1 L899.0,682.1 L899.9,676.9 L901.2,662.3 L902.5,644.2 L903.8,645.0 L905.1,639.3 L906.4,642.6 L907.5,638.9 L909.0,635.4 L910.3,639.8 L911.6,635.2 L912.9,637.3 L914.2,634.0 L915.0,634.8 L916.8,637.1 L918.1,635.5 L920.0,632.4 L920.7,634.0 L922.0,650.5 L923.3,640.0 L924.6,641.3 L926.0,632.5 L927.2,624.1 L928.5,618.1 L929.8,620.7 L931.0,611.2 L932.4,614.8 L933.7,612.8 L935.0,615.7 L936.3,620.3 L937.5,630.8 L938.9,621.7 L940.2,624.1 L941.5,613.1 L942.5,613.6 L944.1,616.3 L945.4,619.5 L946.7,631.6 L947.5,630.9 L949.3,616.8 L951.0,610.9 L951.9,611.5 L953.2,609.8 L954.5,605.8 L955.8,609.3 L957.5,618.8 L958.4,625.3 L960.0,646.2 L961.0,646.6 L962.3,651.6 L964.0,663.4 L964.9,663.1 L966.2,646.2 L967.5,641.0 L968.8,631.1 L970.0,626.7 L971.4,629.1 L972.5,639.2 L974.0,620.9 L975.3,608.2 L976.6,606.8 L977.5,592.5 L979.2,595.6 L980.5,592.1 L981.8,596.5 L983.1,591.8 L984.0,595.0 L985.5,601.5 L987.0,594.3 L988.3,582.3 L989.0,571.8 L990.9,573.1 L992.5,571.0 L993.5,573.2 L994.8,568.9 L996.1,569.7 L997.5,572.6 L998.7,577.6 L1000.0,597.0 L1001.3,597.8 L1002.6,608.5 L1004.0,610.3 L1005.2,589.5 L1006.0,585.3 L1007.8,579.7 L1009.1,583.5 L1010.0,578.5 L1011.7,588.6 L1012.5,588.0 L1014.3,582.5 L1016.0,580.6 L1016.9,591.9 L1018.2,593.4 L1019.0,606.1 L1021.0,619.9 L1022.1,619.8 L1023.4,608.6 L1025.0,607.3 L1026.0,619.7 L1027.5,625.0 L1028.6,634.7 L1030.5,639.8 L1031.2,640.5 L1032.5,622.7 L1034.0,618.5 L1035.1,621.5 L1036.4,633.1 L1037.5,635.2 L1039.0,624.2 L1040.0,610.0 L1041.6,586.5 L1043.0,576.1 L1044.2,578.4 L1046.0,590.9 L1046.8,590.2 L1048.1,598.1 L1050.0,598.5 L1050.7,590.2 L1052.0,583.2 L1053.3,582.9 L1054.0,578.2 L1055.9,584.8 L1057.5,595.5 L1058.5,608.3 L1059.8,609.7 L1061.0,621.4 L1062.4,630.4 L1063.7,627.3 L1065.0,636.5 L1066.3,638.8 L1068.0,653.0 L1068.9,652.2 L1070.0,639.4 L1071.5,651.5 L1072.8,654.0 L1074.0,663.9 L1075.5,672.4 L1076.7,670.7 L1078.0,657.8 L1079.3,652.4 L1080.0,653.5 L1081.9,626.1 L1083.2,621.8 L1084.0,608.4 L1085.8,606.8 L1087.1,603.1 L1089.0,594.6 L1089.7,611.8 L1091.0,623.4 L1092.3,644.4 L1093.6,654.6 L1095.0,679.1 L1096.2,659.8 L1097.5,649.3 L1098.8,651.5 L1100.1,663.5 L1101.0,663.6 L1102.7,660.3 L1104.0,650.3 L1105.0,649.3 L1106.6,628.6 L1107.5,627.5 L1109.2,645.6 L1110.0,661.9 L1111.8,666.6 L1113.1,663.1 L1114.0,666.6 L1115.7,677.8 L1117.0,691.8 L1118.3,675.3 L1119.6,675.2 L1121.0,658.7 L1122.2,654.6 L1123.5,637.3 L1125.0,629.7 L1126.1,622.8 L1127.4,617.8 L1128.7,618.7 L1130.0,609.0 L1131.3,630.6 L1133.0,643.5 L1133.9,644.5 L1135.0,639.2 L1136.5,655.5 L1137.8,663.0 L1139.0,666.9 L1140.4,632.5 L1141.7,614.9 L1142.5,594.5 L1144.3,583.5 L1145.5,583.9 L1146.9,593.3 L1148.2,610.9 L1149.0,614.0 L1150.8,594.1 L1152.0,572.5 L1153.4,594.0 L1154.5,599.5 L1156.0,580.9 L1157.5,570.0 L1158.6,572.3 L1159.9,568.0 L1161.2,571.6 L1162.5,570.4 L1163.8,572.8 L1165.1,568.0 L1166.0,569.0 L1167.7,578.7 L1169.0,578.3 L1170.0,584.0 L1171.6,585.9 L1172.9,581.5 L1174.0,582.5 L1176.0,572.2 L1176.8,570.2 L1178.1,576.0 L1180.0,574.6 L1180.7,576.7 L1182.0,568.4 L1183.0,570.5 L1184.6,590.0 L1186.0,594.5 L1187.2,595.8 L1189.0,590.8 L1189.8,599.3 L1191.1,599.2 L1192.4,617.1 L1194.0,622.1 L1195.0,612.4 L1196.3,595.1 L1197.5,575.9 L1198.9,606.6 L1200.2,628.3 L1201.0,633.7 L1202.8,611.2 L1204.1,582.1 L1205.0,575.5 L1206.7,574.8 L1208.0,579.3 L1209.3,574.8 L1210.0,577.9 L1211.9,576.9 L1213.2,582.1 L1214.0,581.2 L1216.0,598.1 L1217.1,613.7 L1218.4,615.8 L1220.0,633.1 L1221.0,631.4 L1222.3,636.8 L1223.6,636.9 L1225.0,636.8 L1226.2,618.1 L1227.5,609.7 L1228.8,630.1 L1229.5,637.2 L1231.0,661.9 L1232.7,655.0 L1234.0,645.3 L1235.3,653.1 L1237.0,658.8 L1237.9,659.2 L1239.2,669.9 L1240.0,670.2 L1241.8,669.3 L1243.1,658.9 L1244.0,660.7 L1245.7,656.0 L1247.0,654.1 L1248.3,656.5 L1249.0,651.9 L1251.5,655.8 L1252.2,656.6 L1254.0,669.0 L1254.8,670.7 L1256.5,664.5 L1257.4,671.8 L1259.0,675.5 L1260.0,668.9 L1261.0,649.8 L1262.6,655.9 L1264.0,656.6 L1265.2,654.5 L1267.0,647.2 L1267.9,646.0 L1269.0,628.6 L1270.5,621.1 L1271.8,623.9 L1272.5,619.5 L1275.0,614.9 L1275.7,624.0 L1276.5,627.8 L1278.3,597.0 L1279.0,578.8 L1280.9,577.8 L1282.5,573.9 L1283.5,569.5 L1284.8,574.4 L1286.1,572.1 L1287.5,568.9 L1288.7,568.0 L1290.0,574.1 L1291.0,573.5 L1292.6,582.6 L1293.9,584.3 L1295.0,591.4 L1296.5,589.4 L1297.8,576.8 L1299.1,571.7 L1300.0,570.7 L1301.7,581.2 L1303.0,579.4 L1304.0,588.4 L1306.0,600.6 L1306.9,599.1 L1308.2,586.3 L1310.0,579.4 L1310.8,574.9 L1312.1,579.9 L1313.4,577.3 L1315.0,573.9 L1316.0,574.9 L1317.3,570.9 L1318.6,572.8 L1319.9,571.1 L1321.0,568.8 L1322.5,570.9 L1323.8,579.8 L1325.0,581.4 L1326.4,577.4 L1327.7,580.5 L1329.0,579.0 L1330.0,576.5 L1331.6,582.5 L1332.9,580.6 L1334.2,590.0 L1335.0,589.2 L1336.8,601.2 L1337.5,601.3 L1340.0,592.3 L1340.7,580.1 L1342.5,571.4 L1343.3,572.4 L1345.0,589.3 L1345.9,602.0 L1347.5,608.8 L1348.5,612.3 L1349.8,613.1 L1351.0,611.6 L1352.4,612.7 L1353.7,624.1 L1355.0,624.2 L1356.3,623.5 L1357.6,618.9 L1359.0,609.2 L1360.2,609.6 L1361.5,602.8 L1362.5,602.1 L1364.1,599.0 L1365.0,594.3 L1366.7,599.0 L1368.0,607.9 L1369.0,610.1 L1370.6,614.9 L1372.5,629.5 L1373.2,616.7 L1375.0,602.4 L1375.8,598.2 L1377.1,576.4 L1378.0,569.9 L1379.7,581.4 L1381.0,601.7 L1382.3,615.9 L1384.0,626.3 L1384.9,638.1 L1386.2,640.0 L1387.5,655.1 L1388.8,641.2 L1390.1,638.2 L1391.0,626.7 L1392.7,624.8 L1394.0,614.5 L1395.3,623.0 L1396.0,636.2 L1397.9,651.8 L1399.2,674.7 L1400.0,679.3 L1401.8,668.6 L1402.5,658.6 L1404.4,678.5 L1406.0,707.6 L1407.0,706.7 L1408.3,716.2 L1410.0,719.7 L1410.9,718.7 L1412.2,706.0 L1414.0,703.1 L1414.8,698.2 L1416.1,699.5 L1417.4,691.2 L1419.0,690.0 L1420.0,695.8 L1421.3,694.0 L1422.5,700.4 L1423.9,707.0 L1425.2,706.9 L1426.5,716.4 L1427.5,717.9 L1429.1,704.2 L1430.0,703.1 L1431.7,703.8 L1433.0,713.1 L1434.0,712.4 L1435.6,707.5 L1437.5,695.3 L1438.2,695.4 L1439.5,687.2 L1441.0,675.3 L1442.1,682.0 L1444.0,684.8 L1444.7,682.7 L1446.0,660.7 L1447.3,664.3 L1448.6,671.9 L1450.0,683.5 L1451.2,695.8 L1452.5,702.7 L1453.8,699.9 L1455.0,701.3 L1457.0,743.2 L1457.7,750.4 L1459.0,751.3 L1460.3,763.7 L1461.3,765.7 L1463.0,750.5 L1464.2,753.2 L1465.5,760.1 L1467.0,747.2 L1468.1,756.0 L1469.7,760.4 L1470.7,757.9 L1471.5,749.3 L1473.3,767.5 L1474.0,769.0 L1476.0,757.7 L1477.2,744.1 L1478.5,744.4 L1479.2,737.0 L1481.7,762.3 L1482.4,751.2 L1484.0,735.2 L1485.0,728.0 L1486.3,730.0 L1487.2,725.3 L1488.9,732.1 L1490.8,743.6 L1491.6,753.0 L1492.8,747.4 L1493.6,732.3 L1495.7,764.6 L1497.2,747.9 L1498.0,765.8 L1498.0,568.0 L108.0,568.0 Z" fill="#f7c4be"/>
<path d="M108.0,290.0 L109.7,248.3 L110.6,244.6 L111.4,244.2 L112.8,212.8 L114.6,211.3 L116.4,201.9 L117.1,203.7 L117.8,217.2 L119.4,205.6 L120.8,214.6 L122.2,204.0 L123.2,223.2 L124.7,204.7 L126.2,205.7 L127.0,201.8 L129.2,207.6 L130.3,230.4 L132.0,215.9 L132.7,219.2 L134.0,239.2 L135.4,222.7 L137.0,204.3 L138.2,250.3 L138.9,271.3 L141.0,263.9 L141.8,264.3 L143.0,260.6 L144.4,253.7 L145.7,243.9 L146.5,244.2 L148.9,238.9 L149.6,251.1 L150.3,253.2 L152.0,272.3 L153.5,245.5 L154.8,240.1 L155.5,242.8 L157.0,252.9 L158.3,259.7 L160.4,256.5 L161.8,237.1 L162.6,235.1 L164.2,217.9 L165.2,216.4 L166.0,222.0 L167.4,232.0 L168.7,210.0 L170.1,199.5 L171.7,195.8 L173.0,199.3 L174.3,198.8 L175.0,196.7 L176.9,196.6 L178.2,195.5 L179.5,189.7 L180.5,191.4 L182.1,192.4 L183.3,198.7 L184.7,190.8 L186.1,190.7 L187.3,186.9 L188.6,184.8 L190.3,185.3 L191.2,188.7 L193.0,190.1 L193.8,195.0 L194.9,207.7 L196.8,185.9 L197.7,196.2 L198.9,202.5 L200.7,189.4 L201.6,191.2 L202.8,210.1 L204.2,215.2 L204.9,214.0 L206.9,186.4 L208.1,192.7 L209.4,190.3 L211.0,195.8 L212.0,187.4 L213.9,185.3 L214.6,183.1 L215.9,182.6 L217.2,187.7 L218.0,185.2 L219.8,187.2 L221.1,180.5 L222.0,183.1 L223.6,188.7 L225.0,204.6 L225.7,208.1 L227.0,195.7 L228.9,204.6 L229.9,204.6 L232.0,226.3 L232.8,223.2 L234.0,222.9 L235.8,231.5 L236.7,217.4 L237.5,214.2 L239.3,208.1 L240.3,198.0 L241.9,193.6 L243.0,185.0 L244.5,182.1 L245.8,186.2 L247.1,181.6 L248.4,185.6 L249.7,185.4 L251.4,183.7 L252.3,182.8 L253.5,189.7 L254.9,209.2 L256.2,215.6 L257.0,221.9 L258.3,200.8 L260.1,200.0 L261.4,190.6 L262.7,191.1 L264.0,182.2 L265.0,182.7 L266.6,187.7 L267.9,184.0 L269.2,191.0 L271.0,189.6 L271.8,202.8 L273.1,208.2 L274.0,218.9 L275.7,209.9 L277.5,189.8 L278.3,189.4 L279.6,202.2 L280.9,200.6 L282.5,211.6 L283.5,207.1 L284.8,188.9 L286.0,184.3 L287.4,188.2 L288.7,201.9 L290.0,204.5 L291.3,224.0 L292.6,226.5 L294.0,247.7 L295.2,228.9 L296.5,223.2 L297.5,205.1 L299.1,215.7 L301.0,236.2 L301.7,221.9 L303.0,216.5 L304.0,198.7 L305.6,223.8 L307.5,259.7 L308.2,258.8 L309.5,273.6 L310.8,272.2 L312.5,284.5 L313.4,285.2 L314.7,282.6 L316.0,276.6 L317.3,277.7 L318.6,274.8 L320.0,269.7 L321.2,273.2 L322.5,295.2 L324.0,300.0 L325.1,293.6 L326.4,271.0 L328.0,258.3 L329.0,262.5 L330.3,270.0 L331.6,291.5 L332.9,299.2 L334.0,304.7 L335.5,294.0 L336.8,297.2 L338.1,292.0 L340.0,280.6 L340.8,279.4 L342.1,287.6 L343.4,285.1 L345.0,290.1 L346.0,295.3 L347.3,300.0 L348.6,300.0 L349.9,309.3 L351.0,310.5 L352.5,295.7 L353.8,275.0 L355.1,266.4 L356.0,250.2 L357.7,243.1 L359.0,243.4 L360.0,237.2 L361.6,238.3 L362.9,231.8 L364.2,236.6 L365.5,230.2 L366.8,233.3 L368.1,231.7 L369.4,231.8 L370.7,226.5 L372.0,223.9 L373.3,228.2 L374.0,224.9 L375.9,232.2 L377.2,235.4 L378.5,232.3 L380.0,240.1 L381.1,228.2 L382.4,229.1 L384.0,216.4 L385.0,222.1 L386.3,245.8 L387.5,255.2 L388.9,250.5 L390.2,241.8 L391.0,235.0 L392.8,245.8 L394.1,244.3 L395.4,257.9 L396.7,256.4 L398.0,266.7 L399.0,268.0 L400.6,235.5 L402.5,209.1 L403.2,202.1 L404.5,199.3 L405.8,202.1 L407.1,191.4 L408.4,195.1 L409.7,184.6 L411.0,185.7 L412.5,180.2 L413.6,189.0 L414.9,186.8 L416.2,199.9 L417.5,201.9 L418.8,202.0 L420.1,192.6 L421.4,193.6 L422.7,186.6 L424.0,183.2 L425.3,183.8 L426.0,179.8 L427.9,185.4 L429.2,182.7 L430.0,188.1 L431.8,205.5 L433.1,220.3 L434.0,235.1 L435.7,230.0 L437.0,226.6 L438.3,228.8 L440.0,221.9 L440.9,233.9 L442.2,237.8 L443.5,255.1 L445.0,264.2 L446.1,265.3 L447.4,275.3 L448.7,272.7 L450.0,282.1 L451.3,278.8 L452.5,284.7 L453.9,278.0 L455.2,262.2 L456.5,262.0 L457.5,249.7 L459.1,252.4 L460.0,252.9 L461.7,267.1 L462.5,280.0 L464.3,296.2 L466.0,302.2 L466.9,298.1 L468.2,299.8 L470.0,291.9 L470.8,297.1 L472.1,295.6 L474.0,305.1 L474.7,307.5 L476.0,313.5 L477.0,326.2 L478.6,315.0 L479.9,313.3 L481.0,304.8 L482.5,316.2 L484.0,318.5 L485.1,300.0 L486.0,275.0 L487.7,284.2 L489.0,282.7 L490.0,290.0 L491.6,275.3 L492.5,271.8 L494.2,285.2 L495.5,309.7 L497.0,323.5 L498.1,312.8 L499.4,293.4 L501.0,267.3 L502.0,282.3 L503.3,287.4 L504.6,312.3 L505.5,319.6 L507.5,285.3 L508.5,303.9 L510.0,323.2 L511.1,310.1 L513.0,274.6 L513.7,274.1 L515.0,269.6 L516.3,261.0 L517.6,261.8 L519.5,252.0 L520.2,258.2 L521.5,259.0 L522.5,267.7 L524.5,257.6 L525.4,260.9 L526.7,283.9 L527.5,287.7 L529.3,310.1 L530.0,309.2 L531.9,303.1 L533.2,296.3 L534.0,290.1 L536.0,315.2 L537.1,306.5 L539.0,303.1 L539.7,315.3 L541.0,316.0 L542.0,332.5 L543.6,318.5 L544.5,305.4 L546.0,341.8 L547.5,354.4 L549.0,358.7 L550.1,354.9 L551.4,342.6 L552.5,340.4 L554.0,344.1 L555.3,356.6 L556.0,356.8 L557.9,349.9 L559.0,342.3 L560.0,358.6 L562.0,329.7 L563.1,337.4 L565.0,344.4 L565.7,343.0 L567.0,330.7 L568.3,346.8 L570.0,359.2 L570.9,364.5 L572.2,362.6 L574.0,371.2 L574.8,364.9 L576.1,364.2 L577.4,350.2 L579.0,347.4 L580.0,355.6 L581.3,357.7 L582.6,363.5 L584.0,365.7 L585.2,363.2 L586.5,343.7 L588.0,335.8 L589.1,351.3 L590.5,364.6 L591.7,359.2 L593.0,347.7 L594.3,331.7 L595.0,330.5 L597.5,342.0 L598.2,343.2 L599.5,327.6 L601.0,322.4 L602.1,331.9 L603.4,335.8 L605.0,339.7 L606.0,340.2 L607.3,329.6 L608.6,324.7 L609.9,323.9 L611.0,317.3 L612.5,326.5 L613.8,326.0 L614.5,333.7 L617.0,358.0 L617.7,349.0 L619.0,345.3 L620.3,358.2 L621.0,369.1 L622.9,363.2 L624.2,366.6 L626.0,362.4 L626.8,371.5 L628.0,376.9 L629.4,362.8 L631.0,334.0 L632.0,346.7 L633.3,351.3 L634.0,359.9 L635.9,370.3 L637.2,377.5 L638.0,376.9 L639.8,375.0 L641.1,363.5 L642.5,359.8 L643.7,369.3 L645.0,372.2 L646.3,359.1 L647.0,343.9 L648.9,358.9 L650.2,361.8 L651.0,370.1 L652.8,361.9 L654.0,360.2 L655.4,371.0 L656.7,369.7 L657.5,376.1 L659.3,350.8 L661.0,335.0 L661.9,334.6 L663.2,342.8 L664.5,342.1 L665.8,331.8 L667.5,325.0 L668.4,343.8 L669.5,355.1 L671.0,387.9 L672.3,379.8 L673.6,381.1 L675.0,374.8 L676.2,381.9 L677.5,385.9 L679.0,388.7 L680.1,382.9 L681.0,372.8 L682.7,375.0 L684.0,380.3 L685.0,352.1 L686.6,352.2 L687.9,356.5 L689.0,354.8 L690.5,348.6 L691.8,350.8 L693.1,342.2 L694.0,345.0 L695.7,361.1 L697.0,381.3 L698.3,367.6 L700.0,358.0 L700.9,367.7 L702.2,365.3 L704.0,380.2 L704.8,371.3 L706.1,360.5 L707.5,355.6 L708.7,351.8 L710.0,339.6 L711.3,326.7 L712.6,326.2 L713.9,314.7 L715.0,302.0 L716.5,297.8 L717.8,300.5 L719.1,292.8 L720.0,292.6 L721.7,286.2 L723.0,288.1 L724.3,282.0 L725.0,283.0 L726.9,285.5 L728.2,293.0 L729.0,292.5 L730.8,299.5 L732.5,311.2 L733.4,307.6 L734.7,288.7 L736.0,280.2 L737.3,278.3 L738.6,282.3 L740.0,280.7 L741.2,288.7 L742.5,287.1 L744.0,294.6 L745.1,303.2 L746.4,302.8 L747.5,312.9 L749.0,319.6 L750.3,326.4 L751.0,331.8 L753.0,280.4 L754.2,274.6 L756.0,271.5 L756.8,270.8 L758.1,276.0 L759.4,274.3 L760.7,281.0 L762.5,279.7 L763.3,271.9 L764.6,275.6 L765.5,267.5 L767.2,277.4 L768.5,280.1 L770.0,282.3 L771.1,278.7 L772.4,265.7 L774.0,259.6 L775.0,258.3 L776.3,263.2 L777.5,263.0 L778.9,287.8 L780.0,294.6 L781.5,280.5 L782.8,273.3 L784.0,270.2 L785.4,271.2 L786.7,281.6 L787.5,280.2 L789.0,270.0 L790.6,290.0 L792.5,304.0 L793.2,307.2 L794.5,302.6 L795.8,304.5 L797.5,302.4 L798.4,308.1 L799.7,304.1 L801.0,310.9 L802.5,312.7 L803.7,293.8 L804.5,288.1 L806.3,298.8 L807.6,300.9 L809.0,309.7 L810.2,310.0 L811.5,317.1 L812.8,315.1 L814.1,321.7 L815.0,321.2 L816.7,296.1 L818.0,276.8 L819.3,270.7 L820.0,254.8 L821.9,252.6 L823.2,256.2 L824.5,252.6 L825.8,256.6 L827.5,253.7 L828.4,256.0 L830.0,272.5 L831.0,272.5 L832.3,266.2 L833.6,255.1 L835.0,250.8 L836.2,266.1 L837.5,272.2 L838.8,278.5 L840.0,280.3 L841.4,278.7 L842.7,279.7 L844.0,286.1 L845.0,284.7 L846.6,283.4 L847.5,280.0 L849.2,292.5 L850.0,291.7 L851.8,283.3 L852.5,274.9 L854.4,280.0 L856.0,279.6 L857.0,298.6 L858.3,313.4 L859.0,327.6 L860.9,319.9 L862.5,320.3 L863.5,321.2 L865.0,330.4 L866.0,302.1 L867.4,321.7 L869.0,329.2 L870.0,330.8 L871.3,319.4 L872.5,319.2 L873.9,323.0 L875.0,333.4 L876.5,317.4 L877.5,309.4 L879.1,306.3 L880.0,301.5 L881.7,308.9 L882.5,320.1 L884.3,315.5 L886.0,303.8 L886.9,304.5 L888.2,298.4 L889.0,289.7 L890.8,288.1 L892.5,288.9 L893.4,301.4 L894.7,300.4 L895.5,312.4 L897.3,297.6 L899.0,277.6 L899.9,272.4 L901.2,257.8 L902.5,239.6 L903.8,240.3 L905.1,234.6 L906.4,237.9 L907.5,234.2 L909.0,230.6 L910.3,235.0 L911.6,230.3 L912.9,232.4 L914.2,229.0 L915.0,229.8 L916.8,232.1 L918.1,230.5 L920.0,227.3 L920.7,228.9 L922.0,245.3 L923.3,234.8 L924.6,236.1 L926.0,227.2 L927.2,218.8 L928.5,212.7 L929.8,215.4 L931.0,205.8 L932.4,209.4 L933.7,207.4 L935.0,210.2 L936.3,214.8 L937.5,225.2 L938.9,216.1 L940.2,218.5 L941.5,207.4 L942.5,207.9 L944.1,210.6 L945.4,213.6 L946.7,225.8 L947.5,225.0 L949.3,210.9 L951.0,204.9 L951.9,205.5 L953.2,203.8 L954.5,199.7 L955.8,203.2 L957.5,212.6 L958.4,219.1 L960.0,240.0 L961.0,240.4 L962.3,245.3 L964.0,257.1 L964.9,256.8 L966.2,239.8 L967.5,234.6 L968.8,224.6 L970.0,220.2 L971.4,222.5 L972.5,232.6 L974.0,214.2 L975.3,201.5 L976.6,200.1 L977.5,185.8 L979.2,188.8 L980.5,185.2 L981.8,189.7 L983.1,185.0 L984.0,188.1 L985.5,194.5 L987.0,187.3 L988.3,175.3 L989.0,164.7 L990.9,166.0 L992.5,163.8 L993.5,166.0 L994.8,161.7 L996.1,162.5 L997.5,165.3 L998.7,170.2 L1000.0,189.6 L1001.3,190.4 L1002.6,201.0 L1004.0,202.8 L1005.2,182.0 L1006.0,177.7 L1007.8,172.1 L1009.1,175.9 L1010.0,170.8 L1011.7,180.9 L1012.5,180.2 L1014.3,174.7 L1016.0,172.8 L1016.9,184.1 L1018.2,185.5 L1019.0,198.2 L1021.0,212.0 L1022.1,211.8 L1023.4,200.6 L1025.0,199.3 L1026.0,211.7 L1027.5,216.9 L1028.6,226.6 L1030.5,231.7 L1031.2,232.4 L1032.5,214.6 L1034.0,210.3 L1035.1,213.3 L1036.4,224.9 L1037.5,227.0 L1039.0,216.0 L1040.0,201.8 L1041.6,178.2 L1043.0,167.9 L1044.2,170.2 L1046.0,182.6 L1046.8,181.9 L1048.1,189.8 L1050.0,190.2 L1050.7,181.8 L1052.0,174.9 L1053.3,174.5 L1054.0,169.8 L1055.9,176.4 L1057.5,187.1 L1058.5,199.8 L1059.8,201.2 L1061.0,213.0 L1062.4,222.0 L1063.7,218.8 L1065.0,228.0 L1066.3,230.2 L1068.0,244.4 L1068.9,243.6 L1070.0,230.8 L1071.5,242.9 L1072.8,245.4 L1074.0,255.3 L1075.5,263.8 L1076.7,262.1 L1078.0,249.1 L1079.3,243.7 L1080.0,244.8 L1081.9,217.4 L1083.2,213.1 L1084.0,199.7 L1085.8,198.0 L1087.1,194.3 L1089.0,185.8 L1089.7,203.0 L1091.0,214.6 L1092.3,235.6 L1093.6,245.8 L1095.0,270.2 L1096.2,251.0 L1097.5,240.4 L1098.8,242.6 L1100.1,254.6 L1101.0,254.6 L1102.7,251.3 L1104.0,241.3 L1105.0,240.3 L1106.6,219.6 L1107.5,218.5 L1109.2,236.6 L1110.0,252.9 L1111.8,257.5 L1113.1,254.0 L1114.0,257.5 L1115.7,268.7 L1117.0,282.7 L1118.3,266.2 L1119.6,266.1 L1121.0,249.6 L1122.2,245.4 L1123.5,228.1 L1125.0,220.5 L1126.1,213.6 L1127.4,208.6 L1128.7,209.5 L1130.0,199.7 L1131.3,221.3 L1133.0,234.2 L1133.9,235.2 L1135.0,229.9 L1136.5,246.1 L1137.8,253.7 L1139.0,257.5 L1140.4,223.1 L1141.7,205.4 L1142.5,185.1 L1144.3,174.0 L1145.5,174.4 L1146.9,183.8 L1148.2,201.4 L1149.0,204.5 L1150.8,184.5 L1152.0,163.0 L1153.4,184.4 L1154.5,189.9 L1156.0,171.3 L1157.5,160.4 L1158.6,162.7 L1159.9,157.9 L1161.2,161.9 L1162.5,160.8 L1163.8,163.2 L1165.1,156.5 L1166.0,159.3 L1167.7,169.0 L1169.0,168.5 L1170.0,174.2 L1171.6,176.1 L1172.9,171.7 L1174.0,172.7 L1176.0,162.4 L1176.8,160.3 L1178.1,166.2 L1180.0,164.8 L1180.7,166.8 L1182.0,158.6 L1183.0,160.6 L1184.6,180.1 L1186.0,184.5 L1187.2,185.9 L1189.0,180.8 L1189.8,189.4 L1191.1,189.2 L1192.4,207.1 L1194.0,212.0 L1195.0,202.4 L1196.3,185.0 L1197.5,165.9 L1198.9,196.5 L1200.2,218.2 L1201.0,223.6 L1202.8,201.0 L1204.1,172.0 L1205.0,165.4 L1206.7,164.6 L1208.0,169.1 L1209.3,164.6 L1210.0,167.7 L1211.9,166.7 L1213.2,171.9 L1214.0,170.9 L1216.0,187.8 L1217.1,203.4 L1218.4,205.4 L1220.0,222.8 L1221.0,221.1 L1222.3,226.4 L1223.6,226.5 L1225.0,226.4 L1226.2,207.7 L1227.5,199.3 L1228.8,219.7 L1229.5,226.7 L1231.0,251.4 L1232.7,244.6 L1234.0,234.8 L1235.3,242.6 L1237.0,248.3 L1237.9,248.7 L1239.2,259.4 L1240.0,259.6 L1241.8,258.7 L1243.1,248.3 L1244.0,250.1 L1245.7,245.4 L1247.0,243.5 L1248.3,245.9 L1249.0,241.3 L1251.5,245.1 L1252.2,245.9 L1254.0,258.3 L1254.8,260.0 L1256.5,253.8 L1257.4,261.1 L1259.0,264.7 L1260.0,258.1 L1261.0,239.0 L1262.6,245.1 L1264.0,245.7 L1265.2,243.7 L1267.0,236.3 L1267.9,235.2 L1269.0,217.7 L1270.5,210.2 L1271.8,212.9 L1272.5,208.6 L1275.0,203.9 L1275.7,213.0 L1276.5,216.8 L1278.3,186.0 L1279.0,167.8 L1280.9,166.8 L1282.5,162.9 L1283.5,158.4 L1284.8,163.3 L1286.1,161.0 L1287.5,157.8 L1288.7,156.5 L1290.0,163.0 L1291.0,162.3 L1292.6,171.4 L1293.9,173.1 L1295.0,180.2 L1296.5,178.2 L1297.8,165.5 L1299.1,160.5 L1300.0,159.4 L1301.7,169.9 L1303.0,168.1 L1304.0,177.1 L1306.0,189.3 L1306.9,187.8 L1308.2,175.0 L1310.0,168.1 L1310.8,163.5 L1312.1,168.5 L1313.4,165.9 L1315.0,162.4 L1316.0,163.4 L1317.3,159.5 L1318.6,161.3 L1319.9,159.6 L1321.0,157.3 L1322.5,159.4 L1323.8,168.2 L1325.0,169.9 L1326.4,165.9 L1327.7,168.9 L1329.0,167.4 L1330.0,164.8 L1331.6,170.8 L1332.9,169.0 L1334.2,178.3 L1335.0,177.5 L1336.8,189.4 L1337.5,189.6 L1340.0,180.5 L1340.7,168.4 L1342.5,159.7 L1343.3,160.6 L1345.0,177.5 L1345.9,190.2 L1347.5,197.0 L1348.5,200.5 L1349.8,201.3 L1351.0,199.8 L1352.4,200.8 L1353.7,212.2 L1355.0,212.3 L1356.3,211.5 L1357.6,207.0 L1359.0,197.3 L1360.2,197.6 L1361.5,190.8 L1362.5,190.1 L1364.1,187.0 L1365.0,182.3 L1366.7,186.9 L1368.0,195.8 L1369.0,198.0 L1370.6,202.8 L1372.5,217.4 L1373.2,204.5 L1375.0,190.3 L1375.8,186.1 L1377.1,164.3 L1378.0,157.7 L1379.7,169.2 L1381.0,189.5 L1382.3,203.6 L1384.0,214.0 L1384.9,225.9 L1386.2,227.7 L1387.5,242.8 L1388.8,228.8 L1390.1,225.9 L1391.0,214.3 L1392.7,212.4 L1394.0,202.1 L1395.3,210.6 L1396.0,223.8 L1397.9,239.4 L1399.2,262.3 L1400.0,266.8 L1401.8,256.1 L1402.5,246.1 L1404.4,266.0 L1406.0,295.1 L1407.0,294.2 L1408.3,303.7 L1410.0,307.2 L1410.9,306.2 L1412.2,293.4 L1414.0,290.5 L1414.8,285.6 L1416.1,286.9 L1417.4,278.5 L1419.0,277.3 L1420.0,283.1 L1421.3,281.3 L1422.5,287.7 L1423.9,294.3 L1425.2,294.2 L1426.5,303.7 L1427.5,305.1 L1429.1,291.4 L1430.0,290.3 L1431.7,291.0 L1433.0,300.2 L1434.0,299.6 L1435.6,294.6 L1437.5,282.5 L1438.2,282.5 L1439.5,274.3 L1441.0,262.4 L1442.1,269.0 L1444.0,271.9 L1444.7,269.7 L1446.0,247.7 L1447.3,251.3 L1448.6,258.8 L1450.0,270.4 L1451.2,282.7 L1452.5,289.6 L1453.8,286.9 L1455.0,288.2 L1457.0,330.1 L1457.7,337.3 L1459.0,338.2 L1460.3,350.5 L1461.3,352.5 L1463.0,337.3 L1464.2,340.0 L1465.5,346.9 L1467.0,333.9 L1468.1,342.8 L1469.7,347.1 L1470.7,344.6 L1471.5,336.0 L1473.3,354.2 L1474.0,355.6 L1476.0,344.4 L1477.2,330.7 L1478.5,331.0 L1479.2,323.6 L1481.7,348.9 L1482.4,337.8 L1484.0,321.8 L1485.0,314.6 L1486.3,316.6 L1487.2,311.9 L1488.9,318.6 L1490.8,330.0 L1491.6,339.5 L1492.8,333.8 L1493.6,318.7 L1495.7,351.0 L1497.2,334.3 L1498.0,352.2" fill="none" stroke="#a6d79c" stroke-width="1.8" stroke-linejoin="round"/>
<path d="M108.0,671.9 L109.7,630.3 L110.6,626.6 L111.4,626.3 L112.8,594.9 L114.6,593.4 L116.4,584.1 L117.1,585.9 L117.8,599.4 L119.4,587.9 L120.8,596.9 L122.2,586.3 L123.2,605.5 L124.7,587.2 L126.2,588.2 L127.0,584.3 L129.2,590.1 L130.3,612.9 L132.0,598.5 L132.7,601.8 L134.0,621.9 L135.4,605.4 L137.0,587.1 L138.2,633.1 L138.9,654.1 L141.0,646.8 L141.8,647.2 L143.0,643.5 L144.4,636.6 L145.7,626.9 L146.5,627.2 L148.9,622.0 L149.6,634.2 L150.3,636.4 L152.0,655.4 L153.5,628.7 L154.8,623.4 L155.5,626.1 L157.0,636.3 L158.3,643.1 L160.4,639.9 L161.8,620.5 L162.6,618.6 L164.2,601.4 L165.2,599.9 L166.0,605.6 L167.4,615.6 L168.7,593.7 L170.1,583.2 L171.7,579.5 L173.0,583.1 L174.3,582.7 L175.0,580.6 L176.9,580.5 L178.2,579.5 L179.5,573.7 L180.5,575.4 L182.1,576.4 L183.3,582.8 L184.7,575.0 L186.1,574.8 L187.3,571.0 L188.6,569.1 L190.3,569.6 L191.2,573.0 L193.0,574.4 L193.8,579.4 L194.9,592.2 L196.8,570.3 L197.7,580.7 L198.9,587.0 L200.7,574.0 L201.6,575.8 L202.8,594.7 L204.2,599.8 L204.9,598.7 L206.9,571.1 L208.1,577.5 L209.4,575.1 L211.0,580.7 L212.0,572.3 L213.9,570.2 L214.6,568.1 L215.9,568.0 L217.2,572.8 L218.0,570.3 L219.8,572.3 L221.1,568.0 L222.0,568.3 L223.6,573.9 L225.0,589.9 L225.7,593.3 L227.0,581.0 L228.9,589.9 L229.9,590.0 L232.0,611.8 L232.8,608.7 L234.0,608.4 L235.8,617.0 L236.7,603.0 L237.5,599.8 L239.3,593.8 L240.3,583.7 L241.9,579.4 L243.0,570.8 L244.5,568.0 L245.8,572.0 L247.1,568.0 L248.4,571.5 L249.7,571.4 L251.4,569.8 L252.3,568.8 L253.5,575.8 L254.9,595.4 L256.2,601.8 L257.0,608.1 L258.3,587.0 L260.1,586.2 L261.4,576.9 L262.7,577.4 L264.0,568.6 L265.0,569.1 L266.6,574.2 L267.9,570.5 L269.2,577.5 L271.0,576.2 L271.8,589.4 L273.1,594.8 L274.0,605.6 L275.7,596.7 L277.5,576.6 L278.3,576.2 L279.6,589.0 L280.9,587.5 L282.5,598.6 L283.5,594.0 L284.8,575.9 L286.0,571.3 L287.4,575.3 L288.7,589.0 L290.0,591.6 L291.3,611.1 L292.6,613.7 L294.0,634.9 L295.2,616.2 L296.5,610.5 L297.5,592.4 L299.1,603.1 L301.0,623.6 L301.7,609.3 L303.0,603.9 L304.0,586.2 L305.6,611.4 L307.5,647.3 L308.2,646.4 L309.5,661.3 L310.8,659.9 L312.5,672.3 L313.4,673.0 L314.7,670.4 L316.0,664.4 L317.3,665.6 L318.6,662.7 L320.0,657.7 L321.2,661.2 L322.5,683.2 L324.0,688.1 L325.1,681.8 L326.4,659.2 L328.0,646.5 L329.0,650.7 L330.3,658.3 L331.6,679.8 L332.9,687.5 L334.0,693.1 L335.5,682.5 L336.8,685.7 L338.1,680.5 L340.0,669.2 L340.8,668.0 L342.1,676.2 L343.4,673.7 L345.0,678.8 L346.0,684.0 L347.3,688.7 L348.6,688.8 L349.9,698.2 L351.0,699.4 L352.5,684.6 L353.8,663.9 L355.1,655.3 L356.0,639.2 L357.7,632.1 L359.0,632.5 L360.0,626.3 L361.6,627.5 L362.9,621.0 L364.2,625.9 L365.5,619.5 L366.8,622.6 L368.1,621.0 L369.4,621.2 L370.7,615.9 L372.0,613.4 L373.3,617.7 L374.0,614.5 L375.9,621.8 L377.2,625.0 L378.5,621.9 L380.0,629.8 L381.1,618.0 L382.4,618.8 L384.0,606.2 L385.0,611.9 L386.3,635.7 L387.5,645.1 L388.9,640.5 L390.2,631.7 L391.0,625.0 L392.8,635.8 L394.1,634.4 L395.4,648.0 L396.7,646.6 L398.0,656.9 L399.0,658.2 L400.6,625.7 L402.5,599.5 L403.2,592.5 L404.5,589.7 L405.8,592.6 L407.1,581.8 L408.4,585.6 L409.7,575.1 L411.0,576.3 L412.5,570.9 L413.6,579.6 L414.9,577.5 L416.2,590.7 L417.5,592.6 L418.8,592.8 L420.1,583.4 L421.4,584.4 L422.7,577.5 L424.0,574.1 L425.3,574.8 L426.0,570.7 L427.9,576.5 L429.2,573.8 L430.0,579.2 L431.8,596.7 L433.1,611.5 L434.0,626.3 L435.7,621.3 L437.0,617.9 L438.3,620.1 L440.0,613.3 L440.9,625.3 L442.2,629.3 L443.5,646.6 L445.0,655.8 L446.1,656.8 L447.4,666.9 L448.7,664.3 L450.0,673.8 L451.3,670.5 L452.5,676.4 L453.9,669.8 L455.2,654.0 L456.5,653.9 L457.5,641.6 L459.1,644.4 L460.0,644.8 L461.7,659.1 L462.5,672.0 L464.3,688.3 L466.0,694.3 L466.9,690.3 L468.2,692.0 L470.0,684.2 L470.8,689.4 L472.1,687.9 L474.0,697.4 L474.7,699.9 L476.0,705.9 L477.0,718.7 L478.6,707.5 L479.9,705.9 L481.0,697.3 L482.5,708.8 L484.0,711.1 L485.1,692.7 L486.0,667.7 L487.7,677.0 L489.0,675.5 L490.0,682.8 L491.6,668.1 L492.5,664.7 L494.2,678.1 L495.5,702.7 L497.0,716.5 L498.1,705.9 L499.4,686.5 L501.0,660.5 L502.0,675.5 L503.3,680.6 L504.6,705.6 L505.5,712.9 L507.5,678.6 L508.5,697.3 L510.0,716.6 L511.1,703.5 L513.0,668.0 L513.7,667.6 L515.0,663.1 L516.3,654.6 L517.6,655.4 L519.5,645.7 L520.2,651.9 L521.5,652.7 L522.5,661.5 L524.5,651.4 L525.4,654.7 L526.7,677.7 L527.5,681.6 L529.3,704.0 L530.0,703.2 L531.9,697.2 L533.2,690.4 L534.0,684.2 L536.0,709.4 L537.1,700.6 L539.0,697.3 L539.7,709.5 L541.0,710.3 L542.0,726.8 L543.6,712.8 L544.5,699.8 L546.0,736.3 L547.5,748.9 L549.0,753.2 L550.1,749.5 L551.4,737.1 L552.5,735.0 L554.0,738.8 L555.3,751.3 L556.0,751.5 L557.9,744.6 L559.0,737.1 L560.0,753.5 L562.0,724.6 L563.1,732.3 L565.0,739.3 L565.7,738.0 L567.0,725.7 L568.3,741.9 L570.0,754.4 L570.9,759.6 L572.2,757.8 L574.0,766.4 L574.8,760.2 L576.1,759.5 L577.4,745.6 L579.0,742.8 L580.0,751.0 L581.3,753.2 L582.6,759.0 L584.0,761.2 L585.2,758.7 L586.5,739.3 L588.0,731.5 L589.1,747.0 L590.5,760.3 L591.7,754.9 L593.0,743.5 L594.3,727.5 L595.0,726.3 L597.5,737.8 L598.2,739.2 L599.5,723.6 L601.0,718.3 L602.1,727.9 L603.4,731.9 L605.0,735.8 L606.0,736.3 L607.3,725.8 L608.6,720.9 L609.9,720.2 L611.0,713.5 L612.5,722.8 L613.8,722.3 L614.5,730.1 L617.0,754.5 L617.7,745.5 L619.0,741.8 L620.3,754.8 L621.0,765.7 L622.9,759.8 L624.2,763.2 L626.0,759.1 L626.8,768.2 L628.0,773.7 L629.4,759.6 L631.0,730.9 L632.0,743.6 L633.3,748.3 L634.0,756.8 L635.9,767.2 L637.2,774.5 L638.0,773.9 L639.8,772.1 L641.1,760.7 L642.5,757.0 L643.7,766.5 L645.0,769.4 L646.3,756.4 L647.0,741.2 L648.9,756.3 L650.2,759.2 L651.0,767.5 L652.8,759.3 L654.0,757.7 L655.4,768.5 L656.7,767.3 L657.5,773.7 L659.3,748.4 L661.0,732.7 L661.9,732.3 L663.2,740.6 L664.5,739.9 L665.8,729.7 L667.5,722.9 L668.4,741.7 L669.5,753.0 L671.0,785.9 L672.3,777.8 L673.6,779.1 L675.0,772.9 L676.2,780.0 L677.5,784.1 L679.0,786.9 L680.1,781.1 L681.0,771.1 L682.7,773.3 L684.0,778.6 L685.0,750.5 L686.6,750.7 L687.9,755.0 L689.0,753.3 L690.5,747.1 L691.8,749.4 L693.1,740.9 L694.0,743.7 L695.7,759.8 L697.0,780.1 L698.3,766.3 L700.0,756.9 L700.9,766.6 L702.2,764.2 L704.0,779.1 L704.8,770.3 L706.1,759.5 L707.5,754.6 L708.7,750.9 L710.0,738.7 L711.3,725.8 L712.6,725.4 L713.9,713.9 L715.0,701.3 L716.5,697.1 L717.8,699.8 L719.1,692.2 L720.0,692.0 L721.7,685.7 L723.0,687.6 L724.3,681.5 L725.0,682.5 L726.9,685.1 L728.2,692.6 L729.0,692.1 L730.8,699.2 L732.5,710.9 L733.4,707.4 L734.7,688.5 L736.0,680.0 L737.3,678.2 L738.6,682.2 L740.0,680.7 L741.2,688.7 L742.5,687.1 L744.0,694.7 L745.1,703.3 L746.4,703.0 L747.5,713.1 L749.0,719.8 L750.3,726.7 L751.0,732.1 L753.0,680.7 L754.2,675.0 L756.0,671.9 L756.8,671.3 L758.1,676.5 L759.4,674.8 L760.7,681.5 L762.5,680.3 L763.3,672.5 L764.6,676.3 L765.5,668.2 L767.2,678.2 L768.5,680.9 L770.0,683.1 L771.1,679.5 L772.4,666.6 L774.0,660.5 L775.0,659.3 L776.3,664.2 L777.5,664.0 L778.9,688.9 L780.0,695.7 L781.5,681.6 L782.8,674.5 L784.0,671.4 L785.4,672.5 L786.7,682.9 L787.5,681.5 L789.0,671.4 L790.6,691.4 L792.5,705.4 L793.2,708.7 L794.5,704.1 L795.8,706.0 L797.5,704.0 L798.4,709.7 L799.7,705.8 L801.0,712.6 L802.5,714.4 L803.7,695.6 L804.5,689.9 L806.3,700.6 L807.6,702.8 L809.0,711.6 L810.2,712.0 L811.5,719.1 L812.8,717.2 L814.1,723.7 L815.0,723.3 L816.7,698.3 L818.0,679.0 L819.3,672.9 L820.0,657.1 L821.9,654.8 L823.2,658.6 L824.5,654.9 L825.8,659.0 L827.5,656.2 L828.4,658.5 L830.0,675.0 L831.0,675.0 L832.3,668.8 L833.6,657.7 L835.0,653.5 L836.2,668.8 L837.5,674.9 L838.8,681.3 L840.0,683.2 L841.4,681.6 L842.7,682.6 L844.0,689.0 L845.0,687.7 L846.6,686.4 L847.5,683.0 L849.2,695.6 L850.0,694.8 L851.8,686.4 L852.5,678.0 L854.4,683.3 L856.0,682.8 L857.0,701.9 L858.3,716.7 L859.0,730.9 L860.9,723.3 L862.5,723.7 L863.5,724.7 L865.0,733.9 L866.0,705.6 L867.4,725.3 L869.0,732.8 L870.0,734.5 L871.3,723.1 L872.5,723.0 L873.9,726.8 L875.0,737.2 L876.5,721.3 L877.5,713.3 L879.1,710.2 L880.0,705.4 L881.7,712.9 L882.5,724.2 L884.3,719.6 L886.0,707.9 L886.9,708.7 L888.2,702.6 L889.0,693.9 L890.8,692.3 L892.5,693.2 L893.4,705.7 L894.7,704.7 L895.5,716.8 L897.3,702.1 L899.0,682.1 L899.9,676.9 L901.2,662.3 L902.5,644.2 L903.8,645.0 L905.1,639.3 L906.4,642.6 L907.5,638.9 L909.0,635.4 L910.3,639.8 L911.6,635.2 L912.9,637.3 L914.2,634.0 L915.0,634.8 L916.8,637.1 L918.1,635.5 L920.0,632.4 L920.7,634.0 L922.0,650.5 L923.3,640.0 L924.6,641.3 L926.0,632.5 L927.2,624.1 L928.5,618.1 L929.8,620.7 L931.0,611.2 L932.4,614.8 L933.7,612.8 L935.0,615.7 L936.3,620.3 L937.5,630.8 L938.9,621.7 L940.2,624.1 L941.5,613.1 L942.5,613.6 L944.1,616.3 L945.4,619.5 L946.7,631.6 L947.5,630.9 L949.3,616.8 L951.0,610.9 L951.9,611.5 L953.2,609.8 L954.5,605.8 L955.8,609.3 L957.5,618.8 L958.4,625.3 L960.0,646.2 L961.0,646.6 L962.3,651.6 L964.0,663.4 L964.9,663.1 L966.2,646.2 L967.5,641.0 L968.8,631.1 L970.0,626.7 L971.4,629.1 L972.5,639.2 L974.0,620.9 L975.3,608.2 L976.6,606.8 L977.5,592.5 L979.2,595.6 L980.5,592.1 L981.8,596.5 L983.1,591.8 L984.0,595.0 L985.5,601.5 L987.0,594.3 L988.3,582.3 L989.0,571.8 L990.9,573.1 L992.5,571.0 L993.5,573.2 L994.8,568.9 L996.1,569.7 L997.5,572.6 L998.7,577.6 L1000.0,597.0 L1001.3,597.8 L1002.6,608.5 L1004.0,610.3 L1005.2,589.5 L1006.0,585.3 L1007.8,579.7 L1009.1,583.5 L1010.0,578.5 L1011.7,588.6 L1012.5,588.0 L1014.3,582.5 L1016.0,580.6 L1016.9,591.9 L1018.2,593.4 L1019.0,606.1 L1021.0,619.9 L1022.1,619.8 L1023.4,608.6 L1025.0,607.3 L1026.0,619.7 L1027.5,625.0 L1028.6,634.7 L1030.5,639.8 L1031.2,640.5 L1032.5,622.7 L1034.0,618.5 L1035.1,621.5 L1036.4,633.1 L1037.5,635.2 L1039.0,624.2 L1040.0,610.0 L1041.6,586.5 L1043.0,576.1 L1044.2,578.4 L1046.0,590.9 L1046.8,590.2 L1048.1,598.1 L1050.0,598.5 L1050.7,590.2 L1052.0,583.2 L1053.3,582.9 L1054.0,578.2 L1055.9,584.8 L1057.5,595.5 L1058.5,608.3 L1059.8,609.7 L1061.0,621.4 L1062.4,630.4 L1063.7,627.3 L1065.0,636.5 L1066.3,638.8 L1068.0,653.0 L1068.9,652.2 L1070.0,639.4 L1071.5,651.5 L1072.8,654.0 L1074.0,663.9 L1075.5,672.4 L1076.7,670.7 L1078.0,657.8 L1079.3,652.4 L1080.0,653.5 L1081.9,626.1 L1083.2,621.8 L1084.0,608.4 L1085.8,606.8 L1087.1,603.1 L1089.0,594.6 L1089.7,611.8 L1091.0,623.4 L1092.3,644.4 L1093.6,654.6 L1095.0,679.1 L1096.2,659.8 L1097.5,649.3 L1098.8,651.5 L1100.1,663.5 L1101.0,663.6 L1102.7,660.3 L1104.0,650.3 L1105.0,649.3 L1106.6,628.6 L1107.5,627.5 L1109.2,645.6 L1110.0,661.9 L1111.8,666.6 L1113.1,663.1 L1114.0,666.6 L1115.7,677.8 L1117.0,691.8 L1118.3,675.3 L1119.6,675.2 L1121.0,658.7 L1122.2,654.6 L1123.5,637.3 L1125.0,629.7 L1126.1,622.8 L1127.4,617.8 L1128.7,618.7 L1130.0,609.0 L1131.3,630.6 L1133.0,643.5 L1133.9,644.5 L1135.0,639.2 L1136.5,655.5 L1137.8,663.0 L1139.0,666.9 L1140.4,632.5 L1141.7,614.9 L1142.5,594.5 L1144.3,583.5 L1145.5,583.9 L1146.9,593.3 L1148.2,610.9 L1149.0,614.0 L1150.8,594.1 L1152.0,572.5 L1153.4,594.0 L1154.5,599.5 L1156.0,580.9 L1157.5,570.0 L1158.6,572.3 L1159.9,568.0 L1161.2,571.6 L1162.5,570.4 L1163.8,572.8 L1165.1,568.0 L1166.0,569.0 L1167.7,578.7 L1169.0,578.3 L1170.0,584.0 L1171.6,585.9 L1172.9,581.5 L1174.0,582.5 L1176.0,572.2 L1176.8,570.2 L1178.1,576.0 L1180.0,574.6 L1180.7,576.7 L1182.0,568.4 L1183.0,570.5 L1184.6,590.0 L1186.0,594.5 L1187.2,595.8 L1189.0,590.8 L1189.8,599.3 L1191.1,599.2 L1192.4,617.1 L1194.0,622.1 L1195.0,612.4 L1196.3,595.1 L1197.5,575.9 L1198.9,606.6 L1200.2,628.3 L1201.0,633.7 L1202.8,611.2 L1204.1,582.1 L1205.0,575.5 L1206.7,574.8 L1208.0,579.3 L1209.3,574.8 L1210.0,577.9 L1211.9,576.9 L1213.2,582.1 L1214.0,581.2 L1216.0,598.1 L1217.1,613.7 L1218.4,615.8 L1220.0,633.1 L1221.0,631.4 L1222.3,636.8 L1223.6,636.9 L1225.0,636.8 L1226.2,618.1 L1227.5,609.7 L1228.8,630.1 L1229.5,637.2 L1231.0,661.9 L1232.7,655.0 L1234.0,645.3 L1235.3,653.1 L1237.0,658.8 L1237.9,659.2 L1239.2,669.9 L1240.0,670.2 L1241.8,669.3 L1243.1,658.9 L1244.0,660.7 L1245.7,656.0 L1247.0,654.1 L1248.3,656.5 L1249.0,651.9 L1251.5,655.8 L1252.2,656.6 L1254.0,669.0 L1254.8,670.7 L1256.5,664.5 L1257.4,671.8 L1259.0,675.5 L1260.0,668.9 L1261.0,649.8 L1262.6,655.9 L1264.0,656.6 L1265.2,654.5 L1267.0,647.2 L1267.9,646.0 L1269.0,628.6 L1270.5,621.1 L1271.8,623.9 L1272.5,619.5 L1275.0,614.9 L1275.7,624.0 L1276.5,627.8 L1278.3,597.0 L1279.0,578.8 L1280.9,577.8 L1282.5,573.9 L1283.5,569.5 L1284.8,574.4 L1286.1,572.1 L1287.5,568.9 L1288.7,568.0 L1290.0,574.1 L1291.0,573.5 L1292.6,582.6 L1293.9,584.3 L1295.0,591.4 L1296.5,589.4 L1297.8,576.8 L1299.1,571.7 L1300.0,570.7 L1301.7,581.2 L1303.0,579.4 L1304.0,588.4 L1306.0,600.6 L1306.9,599.1 L1308.2,586.3 L1310.0,579.4 L1310.8,574.9 L1312.1,579.9 L1313.4,577.3 L1315.0,573.9 L1316.0,574.9 L1317.3,570.9 L1318.6,572.8 L1319.9,571.1 L1321.0,568.8 L1322.5,570.9 L1323.8,579.8 L1325.0,581.4 L1326.4,577.4 L1327.7,580.5 L1329.0,579.0 L1330.0,576.5 L1331.6,582.5 L1332.9,580.6 L1334.2,590.0 L1335.0,589.2 L1336.8,601.2 L1337.5,601.3 L1340.0,592.3 L1340.7,580.1 L1342.5,571.4 L1343.3,572.4 L1345.0,589.3 L1345.9,602.0 L1347.5,608.8 L1348.5,612.3 L1349.8,613.1 L1351.0,611.6 L1352.4,612.7 L1353.7,624.1 L1355.0,624.2 L1356.3,623.5 L1357.6,618.9 L1359.0,609.2 L1360.2,609.6 L1361.5,602.8 L1362.5,602.1 L1364.1,599.0 L1365.0,594.3 L1366.7,599.0 L1368.0,607.9 L1369.0,610.1 L1370.6,614.9 L1372.5,629.5 L1373.2,616.7 L1375.0,602.4 L1375.8,598.2 L1377.1,576.4 L1378.0,569.9 L1379.7,581.4 L1381.0,601.7 L1382.3,615.9 L1384.0,626.3 L1384.9,638.1 L1386.2,640.0 L1387.5,655.1 L1388.8,641.2 L1390.1,638.2 L1391.0,626.7 L1392.7,624.8 L1394.0,614.5 L1395.3,623.0 L1396.0,636.2 L1397.9,651.8 L1399.2,674.7 L1400.0,679.3 L1401.8,668.6 L1402.5,658.6 L1404.4,678.5 L1406.0,707.6 L1407.0,706.7 L1408.3,716.2 L1410.0,719.7 L1410.9,718.7 L1412.2,706.0 L1414.0,703.1 L1414.8,698.2 L1416.1,699.5 L1417.4,691.2 L1419.0,690.0 L1420.0,695.8 L1421.3,694.0 L1422.5,700.4 L1423.9,707.0 L1425.2,706.9 L1426.5,716.4 L1427.5,717.9 L1429.1,704.2 L1430.0,703.1 L1431.7,703.8 L1433.0,713.1 L1434.0,712.4 L1435.6,707.5 L1437.5,695.3 L1438.2,695.4 L1439.5,687.2 L1441.0,675.3 L1442.1,682.0 L1444.0,684.8 L1444.7,682.7 L1446.0,660.7 L1447.3,664.3 L1448.6,671.9 L1450.0,683.5 L1451.2,695.8 L1452.5,702.7 L1453.8,699.9 L1455.0,701.3 L1457.0,743.2 L1457.7,750.4 L1459.0,751.3 L1460.3,763.7 L1461.3,765.7 L1463.0,750.5 L1464.2,753.2 L1465.5,760.1 L1467.0,747.2 L1468.1,756.0 L1469.7,760.4 L1470.7,757.9 L1471.5,749.3 L1473.3,767.5 L1474.0,769.0 L1476.0,757.7 L1477.2,744.1 L1478.5,744.4 L1479.2,737.0 L1481.7,762.3 L1482.4,751.2 L1484.0,735.2 L1485.0,728.0 L1486.3,730.0 L1487.2,725.3 L1488.9,732.1 L1490.8,743.6 L1491.6,753.0 L1492.8,747.4 L1493.6,732.3 L1495.7,764.6 L1497.2,747.9 L1498.0,765.8" fill="none" stroke="#ee9f97" stroke-width="1.8" stroke-linejoin="round"/>
<g opacity="0.065"><text class="wm" x="796" y="488.3" text-anchor="middle" textLength="368" lengthAdjust="spacingAndGlyphs">CryptoQuant</text></g>
<line x1="108" x2="1500" y1="351.7" y2="351.7" stroke="#20c620" stroke-width="3.1"/>
<line x1="108" x2="1500" y1="765.5" y2="765.5" stroke="#d9361c" stroke-width="3.2"/>
<path d="M108.0,787.0 L109.1,784.5 L110.0,777.3 L111.3,774.8 L112.0,774.7 L113.0,759.0 L114.5,742.7 L116.0,737.4 L116.8,735.2 L117.5,729.7 L119.0,725.9 L120.0,725.1 L121.2,725.4 L122.5,727.6 L123.4,724.4 L125.0,724.2 L125.6,724.1 L126.7,720.0 L127.5,720.0 L128.9,724.3 L130.0,724.8 L131.1,728.0 L132.5,729.8 L133.3,732.2 L134.4,732.9 L135.0,732.1 L137.0,725.2 L137.7,730.4 L139.0,750.1 L139.9,752.6 L140.5,760.2 L142.5,762.0 L143.2,759.1 L144.3,755.9 L145.0,755.1 L146.5,746.1 L147.5,743.9 L148.7,744.1 L149.5,742.5 L150.9,747.4 L152.0,753.8 L153.1,752.5 L154.5,747.5 L155.3,747.0 L156.4,752.6 L157.5,752.4 L158.6,752.6 L159.7,749.9 L160.5,751.1 L161.9,741.7 L162.5,740.1 L164.5,733.9 L165.2,735.2 L166.3,733.8 L167.5,735.2 L168.5,726.1 L169.5,722.6 L171.0,704.2 L171.8,704.0 L172.9,700.7 L174.0,700.1 L175.1,695.0 L176.0,692.3 L177.3,690.4 L178.0,687.6 L180.0,688.9 L181.0,663.9 L181.7,663.2 L182.8,661.4 L184.0,658.9 L185.5,650.6 L186.1,648.4 L187.5,647.7 L188.3,634.4 L189.5,625.5 L191.0,615.2 L191.6,615.3 L192.7,612.7 L194.0,612.7 L194.9,623.9 L195.5,635.6 L197.5,612.8 L198.2,612.9 L199.3,608.4 L200.0,609.1 L201.5,607.5 L202.5,608.1 L203.7,616.5 L204.5,617.6 L206.0,607.3 L207.0,590.4 L208.1,575.4 L209.5,560.6 L210.3,561.2 L211.4,559.1 L212.5,560.3 L213.6,537.7 L214.5,525.8 L215.8,524.2 L217.0,525.2 L218.0,507.0 L219.0,495.2 L220.2,480.9 L221.0,474.7 L222.5,448.2 L224.0,429.3 L224.6,440.9 L225.5,464.7 L226.8,453.4 L227.5,443.0 L229.0,457.3 L230.1,455.8 L231.0,451.1 L232.5,483.8 L233.4,479.6 L234.5,476.2 L236.0,489.5 L236.7,485.1 L238.0,465.5 L238.9,471.8 L239.5,471.3 L241.0,447.6 L242.5,434.1 L243.3,428.4 L244.5,399.1 L245.5,395.8 L247.0,389.0 L247.7,389.0 L249.0,382.4 L249.9,367.4 L250.5,362.4 L252.5,345.8 L253.2,361.2 L254.0,377.2 L255.4,380.5 L257.0,399.0 L257.6,396.1 L259.0,375.7 L259.8,378.9 L260.5,385.8 L262.5,365.2 L263.1,362.1 L264.5,347.5 L265.3,342.4 L266.0,332.5 L268.0,346.8 L268.6,346.9 L269.5,338.9 L271.0,342.2 L271.9,349.9 L273.0,354.7 L274.5,364.6 L275.2,360.5 L276.0,350.0 L277.4,344.1 L278.0,337.5 L280.0,340.1 L280.7,337.0 L282.0,334.0 L283.0,344.1 L283.9,341.1 L285.0,332.2 L286.1,323.2 L287.0,320.1 L288.3,320.1 L289.0,322.1 L290.5,344.6 L291.6,352.2 L292.5,355.2 L294.0,377.1 L294.9,365.7 L295.5,355.1 L297.5,354.8 L298.2,344.5 L299.0,341.2 L300.4,342.9 L301.0,345.0 L303.0,339.0 L303.7,343.3 L305.0,344.8 L306.0,362.7 L307.5,379.1 L308.1,392.4 L309.5,404.4 L310.3,418.0 L311.0,433.3 L313.0,459.2 L313.6,456.7 L315.0,436.4 L315.8,444.4 L317.0,461.0 L318.0,452.6 L319.0,450.1 L320.5,440.0 L321.3,448.5 L322.5,454.7 L324.0,475.8 L324.6,466.5 L326.0,453.1 L326.8,444.2 L327.9,436.5 L329.0,430.2 L330.1,437.4 L331.0,450.8 L332.5,471.9 L333.4,478.7 L335.0,485.6 L335.6,482.5 L336.7,465.1 L337.5,460.2 L338.9,463.3 L340.0,469.9 L341.1,467.4 L342.0,462.8 L343.3,468.5 L344.0,475.1 L346.0,472.5 L346.6,473.5 L347.7,480.0 L349.0,482.7 L349.9,486.6 L351.0,495.9 L352.0,499.6 L353.2,487.9 L354.0,474.8 L355.4,450.0 L356.0,442.4 L358.0,434.9 L358.7,431.5 L359.5,421.3 L361.0,440.1 L362.0,435.5 L363.0,424.7 L364.2,414.4 L365.0,402.3 L366.4,399.8 L367.0,397.2 L369.0,392.5 L369.7,397.7 L370.5,399.6 L371.9,393.5 L372.5,387.1 L374.5,379.4 L375.2,384.1 L376.0,384.8 L377.4,383.3 L378.0,380.4 L380.0,389.6 L380.7,387.5 L382.0,380.0 L382.9,377.6 L384.0,369.2 L385.5,384.4 L386.2,386.8 L387.5,395.1 L388.4,398.1 L389.5,400.2 L391.0,386.6 L391.7,385.2 L393.0,387.6 L393.9,401.2 L394.5,415.0 L396.1,411.0 L397.0,410.2 L398.3,412.9 L399.5,420.1 L401.0,391.4 L401.6,382.3 L403.0,372.9 L403.8,363.0 L405.0,355.3 L406.0,353.3 L407.5,347.4 L408.2,345.8 L409.5,340.3 L410.4,327.8 L411.0,325.0 L412.6,320.9 L414.0,314.0 L414.8,323.4 L415.5,325.2 L417.5,330.7 L418.1,330.9 L419.5,325.9 L420.3,328.5 L421.0,327.4 L422.5,326.7 L424.0,322.4 L424.7,321.1 L425.5,314.6 L427.0,304.3 L428.0,306.8 L429.0,314.2 L430.0,315.0 L431.3,326.9 L432.0,330.0 L434.0,340.6 L434.6,341.7 L435.5,337.5 L436.8,344.4 L437.5,345.8 L439.5,340.0 L440.1,347.5 L441.0,352.3 L442.5,345.0 L443.4,363.3 L444.5,379.8 L446.0,372.8 L446.7,373.1 L447.8,377.4 L449.0,382.7 L450.0,381.2 L451.0,382.7 L452.2,388.8 L453.3,390.0 L454.0,393.8 L456.0,380.5 L456.6,374.9 L457.5,371.2 L458.8,374.4 L459.5,380.4 L461.0,389.8 L462.1,391.6 L463.2,390.2 L464.0,393.0 L465.4,409.4 L466.0,412.5 L468.0,420.9 L468.7,414.6 L470.0,410.3 L470.9,409.9 L472.5,412.3 L473.1,414.1 L474.2,426.7 L475.0,430.2 L476.4,453.2 L477.0,460.5 L479.0,450.3 L479.7,446.5 L481.0,445.1 L481.9,444.4 L483.0,440.9 L484.0,440.2 L485.0,447.0 L486.3,434.7 L487.5,415.9 L488.5,413.4 L490.0,406.0 L490.7,407.3 L491.8,405.4 L492.5,407.8 L494.0,414.7 L495.5,429.4 L496.2,439.8 L497.3,444.7 L498.0,453.8 L500.0,432.9 L500.6,423.2 L502.0,407.7 L502.8,417.4 L504.0,427.2 L505.0,432.6 L506.0,441.2 L507.2,439.4 L508.3,435.4 L509.0,435.0 L511.0,427.5 L511.6,427.3 L512.7,420.6 L514.0,418.9 L514.9,414.3 L516.0,412.7 L517.1,409.1 L518.2,398.9 L519.0,397.6 L520.4,390.3 L521.0,389.2 L522.6,391.2 L524.0,395.1 L524.8,396.0 L526.0,405.1 L527.0,412.5 L528.1,413.9 L529.0,420.5 L530.0,429.9 L531.4,431.4 L532.5,430.2 L533.6,424.9 L534.7,425.0 L535.5,419.9 L536.9,431.4 L537.5,432.5 L539.1,436.6 L540.2,435.6 L541.0,437.3 L542.4,436.6 L543.5,437.2 L544.5,438.9 L546.0,454.8 L546.8,459.4 L548.0,477.8 L549.5,509.7 L550.1,509.5 L551.0,498.9 L552.3,501.4 L553.4,501.0 L554.0,502.4 L556.0,505.1 L556.7,505.6 L557.8,504.6 L559.0,502.7 L560.5,509.0 L561.1,501.5 L562.5,489.5 L563.3,492.6 L564.0,500.0 L566.0,491.0 L566.6,494.8 L568.0,499.7 L568.8,508.4 L570.0,530.1 L571.0,551.4 L572.0,577.9 L573.2,586.2 L574.0,598.1 L575.0,605.5 L577.0,590.6 L577.6,586.0 L578.7,586.4 L579.5,582.5 L580.9,590.3 L582.0,594.7 L583.1,603.2 L584.5,608.7 L585.3,600.2 L586.0,595.0 L588.0,579.3 L588.6,584.6 L590.0,592.0 L591.0,600.0 L591.9,596.5 L593.0,584.8 L594.1,580.6 L595.0,569.5 L596.0,560.3 L597.4,566.5 L598.0,573.2 L599.5,584.7 L601.0,560.9 L601.8,554.1 L602.5,552.9 L604.5,562.0 L605.1,564.7 L606.0,564.9 L607.3,564.6 L608.4,560.6 L609.0,560.9 L611.0,552.9 L611.7,549.3 L612.5,549.3 L613.9,553.7 L614.5,558.6 L616.0,579.9 L617.5,583.8 L618.3,581.7 L619.4,582.4 L620.0,580.2 L622.0,596.0 L622.7,595.5 L623.8,599.3 L625.0,598.9 L626.0,600.4 L627.0,599.9 L628.2,608.0 L629.0,610.5 L630.5,590.5 L631.4,582.4 L632.0,575.2 L634.0,589.9 L635.0,599.6 L635.8,605.8 L636.9,606.2 L637.5,610.1 L639.1,609.4 L640.0,610.0 L641.3,604.7 L642.5,602.7 L643.5,602.9 L645.0,606.1 L645.7,602.3 L646.8,601.7 L647.5,597.5 L649.0,603.7 L650.0,605.9 L651.2,609.3 L652.5,609.8 L653.4,606.6 L655.0,605.2 L655.6,604.8 L656.7,609.6 L657.5,608.8 L658.9,607.9 L660.0,603.7 L661.1,597.3 L662.0,589.9 L663.3,591.9 L664.5,591.1 L666.0,589.2 L666.6,587.9 L668.0,582.4 L668.8,590.1 L669.5,603.8 L670.5,625.8 L672.0,638.8 L673.2,642.0 L674.3,640.9 L675.0,642.6 L676.5,644.0 L677.5,642.4 L678.7,650.2 L679.5,652.2 L681.0,645.2 L682.0,645.5 L683.1,642.9 L684.0,644.0 L685.5,635.0 L686.4,637.0 L688.0,637.3 L688.6,637.6 L690.0,634.0 L690.8,635.6 L692.0,635.1 L693.0,628.7 L694.0,626.2 L695.5,637.0 L696.3,640.6 L697.5,640.9 L698.5,642.1 L700.0,639.9 L700.7,639.3 L701.8,641.3 L702.5,641.0 L704.0,643.7 L705.0,643.9 L706.2,644.4 L707.5,642.4 L708.4,642.1 L710.0,639.0 L710.6,638.0 L711.7,633.8 L712.5,628.7 L714.0,590.5 L715.0,585.4 L716.0,585.1 L717.2,584.9 L718.0,582.5 L719.5,564.9 L720.5,565.0 L722.0,562.5 L722.7,564.0 L724.0,563.9 L724.9,563.4 L726.0,557.4 L727.1,563.6 L728.0,564.8 L729.3,561.0 L730.0,561.3 L732.0,569.7 L732.6,574.0 L734.0,578.7 L734.8,577.3 L735.5,571.8 L737.5,550.8 L738.1,548.5 L739.5,547.7 L740.3,548.5 L741.0,552.6 L743.0,562.5 L743.6,560.8 L745.0,560.1 L745.8,561.3 L747.0,570.2 L748.0,570.6 L749.0,572.8 L750.5,583.5 L751.3,587.9 L752.0,596.5 L754.0,549.6 L754.6,546.9 L756.0,537.4 L756.8,524.9 L757.5,519.7 L759.5,515.0 L760.1,518.5 L761.0,519.9 L762.3,515.4 L763.4,517.0 L764.0,513.8 L766.0,512.5 L766.7,514.6 L768.0,515.8 L768.9,514.5 L770.0,514.9 L771.1,513.0 L772.5,507.7 L773.3,501.1 L774.5,495.3 L775.5,495.1 L777.0,499.7 L777.7,503.7 L779.0,504.7 L779.9,519.3 L780.5,522.4 L782.5,512.9 L783.2,508.9 L784.5,506.1 L785.4,506.0 L786.0,507.6 L787.6,506.1 L789.0,506.1 L789.8,509.5 L791.0,517.7 L792.5,519.8 L793.1,523.9 L794.5,527.3 L795.3,527.7 L796.4,524.5 L797.5,524.1 L798.6,524.1 L800.0,526.0 L800.8,526.5 L801.9,523.7 L802.5,525.0 L804.5,519.0 L805.2,523.6 L806.0,523.9 L807.4,524.3 L809.0,527.6 L809.6,530.8 L811.0,532.3 L811.8,534.5 L812.9,533.3 L814.0,535.2 L815.1,536.3 L816.0,541.1 L817.3,532.0 L818.0,530.0 L820.0,510.3 L820.6,508.2 L822.0,496.1 L822.8,497.3 L823.9,494.7 L825.0,496.1 L826.1,494.3 L827.5,494.2 L828.3,492.0 L829.5,492.6 L830.5,492.4 L832.0,496.1 L832.7,494.9 L833.8,496.3 L835.0,493.9 L836.0,497.0 L837.5,497.6 L838.2,498.9 L839.3,498.2 L840.0,500.2 L841.5,502.0 L843.0,506.1 L843.7,505.2 L844.8,505.2 L846.0,506.1 L847.0,504.7 L848.1,504.8 L849.2,504.7 L850.0,505.9 L851.4,505.2 L852.5,502.4 L853.6,505.2 L855.0,504.9 L855.8,506.5 L857.0,505.9 L858.0,515.8 L859.0,522.4 L860.0,534.7 L861.3,536.1 L862.4,533.5 L864.0,533.9 L864.6,535.5 L865.5,534.6 L867.0,525.3 L867.9,531.6 L869.0,534.8 L870.1,536.8 L871.0,535.9 L872.3,537.7 L873.4,535.8 L875.0,537.6 L875.6,538.0 L876.7,531.6 L877.5,531.1 L878.9,527.1 L880.5,526.2 L881.1,526.0 L882.5,529.1 L883.3,531.8 L884.5,532.4 L885.5,531.8 L887.0,526.0 L887.7,525.2 L889.0,519.9 L889.9,520.3 L891.0,517.4 L892.1,520.5 L893.2,518.6 L894.0,521.2 L895.5,527.3 L896.5,527.9 L898.0,526.2 L898.7,519.9 L900.0,512.8 L901.0,505.0 L902.0,498.8 L903.0,486.9 L904.0,469.8 L905.3,469.2 L906.4,465.7 L907.0,465.9 L908.6,466.4 L910.0,464.9 L910.8,465.2 L911.9,458.6 L912.5,459.0 L914.1,452.2 L915.0,450.1 L916.3,449.9 L917.5,452.6 L918.5,449.4 L920.0,449.2 L920.7,447.6 L921.8,448.3 L922.9,445.6 L924.0,446.2 L925.1,444.0 L926.2,442.6 L927.5,442.7 L928.4,435.7 L929.5,432.3 L931.0,415.9 L931.7,410.5 L933.0,407.7 L933.9,408.2 L935.5,415.0 L936.1,415.3 L937.5,420.7 L938.3,420.1 L939.4,412.4 L940.0,412.3 L941.6,409.8 L942.5,410.1 L943.8,409.4 L944.5,411.2 L946.0,412.1 L947.0,416.1 L948.2,414.0 L949.5,407.4 L950.4,407.9 L951.0,404.9 L953.0,410.1 L953.7,408.0 L955.0,395.0 L955.9,395.6 L957.0,394.8 L958.1,406.1 L959.0,412.4 L960.3,416.6 L961.0,416.0 L963.0,424.9 L963.6,426.2 L964.5,432.3 L966.0,425.0 L966.9,418.4 L968.0,414.2 L969.1,414.7 L970.0,412.6 L971.3,412.7 L972.5,415.1 L973.5,411.3 L974.5,411.3 L976.0,390.2 L976.8,382.6 L978.0,377.4 L978.9,373.2 L980.0,365.8 L981.1,367.7 L982.5,367.4 L983.3,370.0 L984.4,367.9 L985.0,370.0 L987.0,367.4 L988.0,343.3 L988.8,328.5 L989.5,324.1 L991.0,322.3 L992.5,310.5 L993.2,309.9 L994.5,304.9 L995.4,296.0 L996.0,294.5 L997.5,285.2 L998.7,290.1 L999.5,298.0 L1001.0,304.7 L1002.5,315.5 L1003.1,312.4 L1004.5,311.3 L1005.3,299.4 L1006.0,294.8 L1007.5,295.4 L1009.0,294.1 L1009.7,293.7 L1010.5,298.0 L1012.0,310.0 L1013.0,307.3 L1014.0,299.6 L1015.5,292.8 L1016.3,291.9 L1017.5,294.9 L1018.5,305.2 L1019.5,309.9 L1021.0,320.6 L1021.8,320.7 L1023.0,314.9 L1024.0,312.6 L1025.0,307.4 L1026.2,312.6 L1027.0,317.7 L1028.4,317.9 L1029.0,320.1 L1030.5,339.7 L1032.0,320.7 L1032.8,320.0 L1034.0,317.4 L1035.5,321.1 L1036.1,322.9 L1037.0,329.0 L1038.3,327.8 L1039.0,324.8 L1040.5,309.8 L1041.6,308.9 L1042.5,304.8 L1043.8,298.8 L1044.5,294.0 L1046.0,300.2 L1047.1,298.2 L1048.0,299.2 L1049.3,303.2 L1050.0,302.4 L1051.5,302.2 L1052.5,298.8 L1054.0,292.3 L1054.8,291.9 L1056.0,295.9 L1057.0,299.8 L1058.0,300.1 L1059.2,301.5 L1060.0,306.2 L1061.4,306.8 L1062.5,310.1 L1063.6,313.5 L1065.0,315.8 L1065.8,322.5 L1067.0,326.2 L1068.0,327.9 L1069.0,327.6 L1070.2,321.3 L1071.0,321.0 L1072.4,333.2 L1073.0,334.2 L1074.5,349.2 L1076.0,345.2 L1076.8,341.8 L1078.0,340.1 L1079.5,337.5 L1080.1,331.1 L1081.0,312.3 L1082.3,311.7 L1083.0,309.8 L1085.0,304.3 L1086.0,307.3 L1086.7,307.1 L1088.0,300.0 L1088.9,301.4 L1090.0,300.9 L1091.1,310.5 L1092.0,312.6 L1093.0,325.5 L1094.5,360.0 L1096.0,334.5 L1096.6,334.0 L1097.5,329.9 L1098.8,333.8 L1100.0,333.8 L1101.0,337.3 L1102.0,338.8 L1103.2,338.9 L1104.0,336.1 L1105.4,331.9 L1106.0,332.3 L1108.0,316.2 L1108.7,318.8 L1110.0,330.1 L1110.9,331.3 L1112.0,337.7 L1113.1,338.4 L1114.0,341.2 L1115.5,347.6 L1116.4,350.4 L1117.0,357.4 L1119.0,345.9 L1119.7,343.6 L1121.0,332.8 L1121.9,333.1 L1123.0,337.6 L1124.1,327.6 L1125.0,322.7 L1126.3,318.9 L1127.5,319.2 L1128.5,313.5 L1130.0,311.0 L1130.7,316.3 L1132.0,319.1 L1132.9,319.4 L1134.0,324.8 L1135.5,331.0 L1136.2,324.4 L1137.0,322.7 L1138.4,329.0 L1139.0,328.4 L1140.5,317.7 L1141.7,307.5 L1142.5,305.1 L1143.9,303.8 L1145.0,303.9 L1146.1,305.6 L1147.5,306.1 L1148.3,304.4 L1149.4,306.6 L1150.0,304.8 L1151.6,292.8 L1152.5,289.2 L1153.8,294.9 L1154.5,299.9 L1156.0,292.4 L1157.5,280.5 L1158.2,272.4 L1159.0,269.8 L1160.4,251.2 L1161.0,239.8 L1162.6,237.6 L1164.0,232.5 L1164.8,226.2 L1166.0,220.2 L1167.5,212.6 L1168.1,216.6 L1169.2,223.6 L1170.0,225.1 L1171.4,218.9 L1172.5,217.3 L1173.6,218.4 L1175.0,217.4 L1176.0,208.0 L1176.9,208.2 L1178.0,212.9 L1179.0,214.1 L1180.2,207.7 L1181.0,206.1 L1182.4,199.4 L1184.0,194.4 L1184.6,198.0 L1186.0,212.4 L1186.8,212.7 L1187.9,216.3 L1189.0,220.1 L1190.0,214.9 L1191.2,218.0 L1192.3,224.2 L1193.0,224.8 L1195.0,220.0 L1195.6,219.4 L1196.7,210.4 L1198.0,207.7 L1198.9,212.6 L1200.0,225.1 L1201.1,223.0 L1202.5,222.4 L1203.3,218.0 L1204.4,204.0 L1205.0,200.1 L1206.6,197.0 L1207.5,197.6 L1208.8,196.8 L1209.9,197.6 L1211.0,199.6 L1212.5,199.1 L1213.2,200.1 L1214.3,208.7 L1215.0,209.9 L1216.5,211.2 L1217.5,215.2 L1218.7,214.8 L1219.8,217.4 L1221.0,217.4 L1222.0,217.6 L1223.1,215.6 L1224.2,216.3 L1225.0,215.1 L1226.4,213.8 L1227.5,216.9 L1229.0,216.2 L1229.7,218.0 L1230.5,225.7 L1232.0,239.4 L1233.0,256.1 L1234.1,242.0 L1235.0,234.2 L1236.3,233.0 L1237.0,235.6 L1238.5,246.4 L1239.5,259.8 L1240.7,253.9 L1241.8,250.6 L1242.5,250.1 L1244.0,248.3 L1245.1,248.5 L1246.0,248.8 L1247.3,245.3 L1248.4,245.4 L1249.0,242.4 L1251.0,242.6 L1251.7,243.2 L1252.8,250.6 L1254.0,252.3 L1255.5,250.2 L1256.1,251.3 L1257.2,256.2 L1258.3,264.0 L1259.0,268.8 L1261.0,250.1 L1261.6,251.0 L1262.7,248.3 L1263.8,250.5 L1264.9,249.9 L1265.5,248.3 L1267.1,237.8 L1268.0,224.9 L1269.3,221.6 L1270.4,222.7 L1271.0,220.9 L1272.6,221.4 L1274.0,219.9 L1274.8,216.3 L1276.0,215.2 L1277.0,208.5 L1278.1,204.4 L1279.5,200.3 L1280.3,199.1 L1281.4,200.9 L1282.5,198.4 L1284.0,199.1 L1284.7,194.5 L1286.0,192.7 L1286.9,187.8 L1288.0,185.2 L1289.1,188.1 L1290.5,189.8 L1291.3,191.0 L1292.4,196.2 L1294.0,199.0 L1294.6,196.8 L1296.0,196.2 L1296.8,195.6 L1297.9,197.5 L1299.0,197.4 L1300.1,195.0 L1301.0,187.4 L1302.3,192.8 L1303.4,191.9 L1304.0,195.9 L1306.0,197.6 L1306.7,197.5 L1307.8,203.9 L1309.0,204.9 L1310.0,197.7 L1311.0,194.1 L1312.2,193.7 L1313.3,193.7 L1314.4,192.3 L1315.0,190.9 L1316.6,191.0 L1317.5,190.1 L1318.8,187.1 L1320.0,186.2 L1321.0,173.3 L1322.0,165.1 L1323.2,166.7 L1324.2,167.6 L1325.0,167.4 L1326.4,169.3 L1327.5,167.4 L1328.6,169.3 L1330.0,168.9 L1330.8,168.0 L1331.9,169.2 L1333.0,167.1 L1334.0,167.7 L1335.2,173.4 L1336.3,177.3 L1337.0,177.3 L1338.5,175.7 L1340.0,172.4 L1340.7,169.3 L1341.8,168.2 L1343.0,163.9 L1344.0,167.8 L1345.1,167.2 L1346.0,170.9 L1347.3,174.2 L1348.4,173.4 L1350.0,177.6 L1350.6,177.9 L1351.7,183.0 L1353.0,185.1 L1353.9,184.8 L1355.5,189.1 L1356.1,187.0 L1357.2,188.1 L1358.3,186.4 L1359.0,184.0 L1360.5,179.5 L1361.6,179.9 L1362.5,175.9 L1363.8,172.8 L1365.0,172.6 L1366.0,170.2 L1367.5,170.1 L1368.2,173.6 L1369.3,174.3 L1370.0,177.7 L1371.5,180.3 L1373.0,186.1 L1373.7,180.9 L1374.8,180.4 L1376.0,172.4 L1377.0,168.1 L1378.0,158.9 L1379.5,157.2 L1380.3,161.2 L1381.4,161.9 L1382.0,165.1 L1384.0,177.5 L1384.7,180.5 L1385.5,181.4 L1386.9,189.1 L1388.0,192.4 L1389.1,188.7 L1390.5,185.9 L1391.3,184.7 L1392.4,182.4 L1394.0,176.0 L1394.6,177.4 L1396.0,185.0 L1396.8,184.8 L1397.9,190.1 L1399.0,189.8 L1400.1,199.7 L1401.0,203.8 L1402.3,201.4 L1403.4,199.6 L1404.0,196.7 L1406.0,212.0 L1406.7,218.0 L1407.8,220.3 L1409.0,227.7 L1410.0,242.8 L1411.0,249.8 L1412.2,246.4 L1413.3,236.3 L1414.0,234.7 L1416.0,230.3 L1416.6,228.5 L1417.7,230.1 L1419.0,227.4 L1419.9,231.1 L1421.0,232.4 L1422.1,232.9 L1423.2,228.5 L1424.0,229.4 L1425.4,233.4 L1426.0,239.2 L1427.6,239.4 L1429.0,242.6 L1429.8,241.2 L1430.9,242.4 L1432.5,240.9 L1433.1,241.7 L1434.2,238.9 L1435.3,240.6 L1436.4,238.1 L1437.5,239.2 L1438.6,236.4 L1440.0,227.5 L1440.8,228.4 L1441.9,224.8 L1442.5,226.3 L1444.5,232.3 L1445.2,229.5 L1446.3,220.4 L1447.0,218.1 L1448.5,226.7 L1450.0,232.2 L1450.7,235.3 L1451.8,233.6 L1452.5,236.1 L1454.0,235.5 L1455.0,237.9 L1456.2,245.6 L1457.5,257.7 L1458.4,261.6 L1460.0,275.0 L1460.6,281.2 L1462.0,302.3 L1462.8,297.4 L1464.0,294.9 L1465.0,296.9 L1466.0,302.6 L1467.2,300.8 L1468.3,302.1 L1469.0,300.0 L1471.0,307.5 L1471.6,308.3 L1472.7,315.3 L1474.0,316.8 L1474.9,314.6 L1476.0,304.9 L1477.1,304.8 L1478.2,302.7 L1479.0,299.4 L1480.0,290.0 L1482.0,302.4 L1482.6,298.1 L1483.7,296.0 L1485.0,287.4 L1485.9,287.5 L1487.5,282.0 L1488.1,287.0 L1489.2,286.6 L1490.0,292.8 L1491.4,294.4 L1492.5,297.6 L1494.0,292.5 L1494.7,299.6 L1496.0,307.2 L1496.9,306.1 L1498.0,302.5" fill="none" stroke="#0c0c0c" stroke-width="2.3" stroke-linejoin="round" stroke-linecap="round"/>
<line x1="1506" x2="1506" y1="125" y2="819" stroke="#111" stroke-width="2.1"/>
<g class="yl"><text x="71" y="242.5" text-anchor="end">16M</text><text x="71" y="409.0" text-anchor="end">8M</text><text x="71" y="575.3" text-anchor="end">0</text><text x="71" y="740.0" text-anchor="end" textLength="35.5" lengthAdjust="spacing">-8M</text></g>
<g class="yr"><text x="1521.5" y="216.3">100K</text><text x="1521.5" y="241.7">90K</text><text x="1521.5" y="270.2">80K</text><text x="1521.5" y="302.4">70K</text><text x="1521.5" y="339.6">60K</text><text x="1521.5" y="383.7">50K</text><text x="1521.5" y="437.6">40K</text><text x="1521.5" y="507.0">30K</text><text x="1521.5" y="604.9">20K</text><text x="1521.5" y="772.3">10K</text><text x="1521.5" y="797.7">9K</text><text x="1521.5" y="826.2">8K</text></g>
<g class="xl"><text x="96.2" y="849.6" text-anchor="middle" textLength="62.4" lengthAdjust="spacingAndGlyphs">2020 Jul</text><text x="219.0" y="849.6" text-anchor="middle" textLength="64.8" lengthAdjust="spacingAndGlyphs">2021 Jan</text><text x="340.2" y="849.6" text-anchor="middle" textLength="62.4" lengthAdjust="spacingAndGlyphs">2021 Jul</text><text x="462.2" y="849.6" text-anchor="middle" textLength="64.8" lengthAdjust="spacingAndGlyphs">2022 Jan</text><text x="583.0" y="849.6" text-anchor="middle" textLength="62.4" lengthAdjust="spacingAndGlyphs">2022 Jul</text><text x="706.2" y="849.6" text-anchor="middle" textLength="64.8" lengthAdjust="spacingAndGlyphs">2023 Jan</text><text x="827.0" y="849.6" text-anchor="middle" textLength="62.4" lengthAdjust="spacingAndGlyphs">2023 Jul</text><text x="950.0" y="849.6" text-anchor="middle" textLength="64.8" lengthAdjust="spacingAndGlyphs">2024 Jan</text><text x="1071.2" y="849.6" text-anchor="middle" textLength="62.4" lengthAdjust="spacingAndGlyphs">2024 Jul</text><text x="1194.2" y="849.6" text-anchor="middle" textLength="64.8" lengthAdjust="spacingAndGlyphs">2025 Jan</text><text x="1315.2" y="849.6" text-anchor="middle" textLength="62.4" lengthAdjust="spacingAndGlyphs">2025 Jul</text><text x="1438.2" y="849.6" text-anchor="middle" textLength="64.8" lengthAdjust="spacingAndGlyphs">2026 Jan</text></g>
<text class="foot" x="1560" y="877" text-anchor="end">© CryptoQuant. All rights reserved</text>
</svg>
</body>
</html>
